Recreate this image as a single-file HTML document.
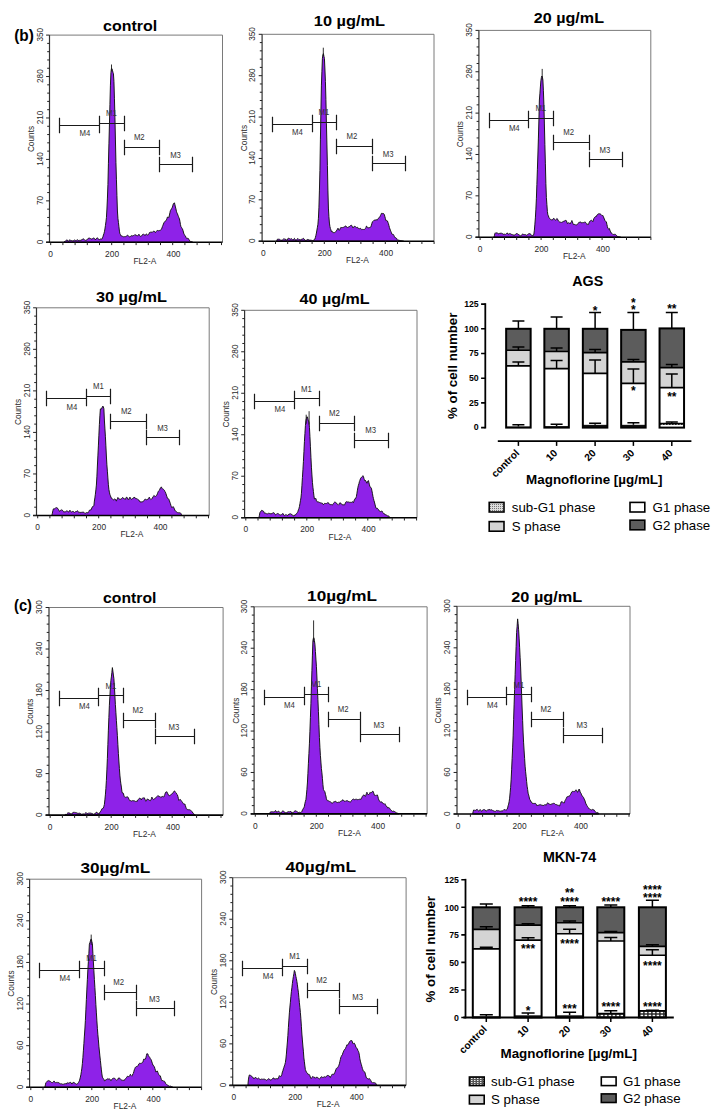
<!DOCTYPE html>
<html><head><meta charset="utf-8"><style>
html,body{margin:0;padding:0;background:#fff;}
body{width:716px;height:1117px;overflow:hidden;}
svg{display:block;}
text{font-family:"Liberation Sans",sans-serif;}
.tl{font-size:8.4px;fill:#2a2a2a;text-anchor:middle;}
.ml{font-size:8.9px;fill:#333;}
.tt{font-size:15px;font-weight:bold;fill:#000;}
.pl{font-size:17px;font-weight:bold;fill:#000;}
.bl{font-size:9.8px;font-weight:bold;fill:#000;}
.yl{font-size:13.3px;font-weight:bold;fill:#000;text-anchor:middle;}
.xl{font-size:10.2px;font-weight:bold;fill:#000;text-anchor:end;}
.ct{font-size:14.3px;font-weight:bold;fill:#000;text-anchor:middle;}
.xt{font-size:13.4px;font-weight:bold;fill:#000;text-anchor:middle;}
.lg{font-size:13.3px;fill:#000;}
.st{font-weight:bold;fill:#000;text-anchor:middle;}
</style></head><body>
<svg width="716" height="1117" viewBox="0 0 716 1117">
<defs>
<pattern id="hatch" width="4" height="3" patternUnits="userSpaceOnUse"><rect width="4" height="3" fill="#222"/><rect x="0.6" y="0.7" width="2.6" height="1.6" fill="#fff"/></pattern>
<pattern id="hatch2" width="2" height="2" patternUnits="userSpaceOnUse"><rect width="2" height="2" fill="#ddd"/><rect width="1" height="1" fill="#777"/></pattern>
<pattern id="hatch3" width="3" height="2" patternUnits="userSpaceOnUse"><rect width="3" height="2" fill="#555"/><rect width="1.5" height="1" fill="#eee"/></pattern>
<pattern id="hatchA" width="3" height="3" patternUnits="userSpaceOnUse"><rect width="3" height="3" fill="#fff"/><rect y="1" width="1.6" height="1" fill="#333"/></pattern>
</defs>
<rect width="716" height="1117" fill="#fff"/>
<path d="M63.93 242.3 L63.93 242.3 L64.43 241.55 L64.93 241.34 L65.43 241.19 L65.93 240.7 L66.43 240.04 L66.93 239.66 L67.43 240.06 L67.93 240.91 L68.43 241.25 L68.93 240.89 L69.43 240.12 L69.93 239.67 L70.43 240.34 L70.93 240.44 L71.43 240.51 L71.93 240.73 L72.43 240.77 L72.93 240.92 L73.43 240.76 L73.93 240.55 L74.43 239.87 L74.93 240.25 L75.43 240.47 L75.93 240.56 L76.43 240.39 L76.93 240.16 L77.43 239.74 L77.93 239.97 L78.43 240.68 L78.93 240.36 L79.43 240.4 L79.93 240.29 L80.43 240.3 L80.93 240.28 L81.43 239.97 L81.93 239.87 L82.43 239.14 L82.93 239.18 L83.43 238.81 L83.93 239.27 L84.43 239.86 L84.93 240.3 L85.43 240.39 L85.93 240.31 L86.43 240.1 L86.93 239.77 L87.43 239.22 L87.93 239.08 L88.43 238.19 L88.93 238.07 L89.43 238.1 L89.93 238.31 L90.43 238.53 L90.93 238.8 L91.43 239.1 L91.93 238.72 L92.43 238.74 L92.93 238.59 L93.43 238.05 L93.93 237.81 L94.43 238.56 L94.93 239.16 L95.43 239.99 L95.93 238.87 L96.43 238.61 L96.93 237.98 L97.43 237.79 L97.93 238.55 L98.43 239.28 L98.93 239.1 L99.43 239.56 L99.93 239.31 L100.43 238.99 L100.93 239.07 L101.43 239.18 L101.93 239.05 L102.43 237.86 L102.93 236.86 L103.43 234.97 L103.93 233.64 L104.43 231.72 L104.93 229.01 L105.43 225.64 L105.93 221.88 L106.43 217.63 L106.93 209.04 L107.43 198.06 L107.93 184.55 L108.43 163.23 L108.93 143.84 L109.43 125 L109.93 104.39 L110.43 85.15 L110.93 72.71 L111.43 68.54 L111.93 68.56 L112.43 70.19 L112.93 72.3 L113.43 73.75 L113.93 81.27 L114.43 98.23 L114.93 117.2 L115.43 139.97 L115.93 162.3 L116.43 179.2 L116.93 195.52 L117.43 211 L117.93 218.36 L118.43 222.44 L118.93 226.72 L119.43 231.17 L119.93 233.78 L120.43 234.5 L120.93 235.83 L121.43 235.86 L121.93 236.14 L122.43 236.33 L122.93 236.42 L123.43 236.67 L123.93 236.94 L124.43 236.59 L124.93 237.03 L125.43 236.82 L125.93 236.2 L126.43 236.11 L126.93 235.6 L127.43 235.28 L127.93 235.5 L128.43 235.95 L128.93 236.39 L129.43 236.77 L129.93 236.65 L130.43 236.38 L130.93 236.5 L131.43 235.67 L131.93 235.59 L132.43 235.83 L132.93 236.06 L133.43 235.54 L133.93 235.45 L134.43 235.15 L134.93 234.58 L135.43 234.9 L135.93 235.08 L136.43 235.19 L136.93 235.92 L137.43 236.01 L137.93 235.32 L138.43 235.03 L138.93 234.27 L139.43 235.05 L139.93 235.89 L140.43 236.46 L140.93 236.35 L141.43 235.88 L141.93 235.66 L142.43 234.65 L142.93 234.57 L143.43 234.02 L143.93 234.42 L144.43 234.69 L144.93 235.53 L145.43 234.72 L145.93 234.53 L146.43 234.04 L146.93 234.39 L147.43 235.1 L147.93 235.16 L148.43 234.55 L148.93 233.88 L149.43 232.52 L149.93 232.73 L150.43 232.29 L150.93 231.88 L151.43 232.08 L151.93 232.32 L152.43 232.27 L152.93 231.78 L153.43 231.16 L153.93 231.17 L154.43 231.35 L154.93 232.07 L155.43 232.57 L155.93 231.66 L156.43 231.29 L156.93 230.68 L157.43 230.53 L157.93 230.42 L158.43 230.74 L158.93 230.51 L159.43 230.47 L159.93 230.36 L160.43 230.25 L160.93 229.9 L161.43 229.25 L161.93 228.05 L162.43 226.47 L162.93 225.34 L163.43 224.03 L163.93 222.8 L164.43 222.07 L164.93 221.51 L165.43 220.93 L165.93 220.73 L166.43 219.91 L166.93 218.61 L167.43 217.05 L167.93 217.33 L168.43 217.29 L168.93 217.53 L169.43 214.98 L169.93 212.71 L170.43 210.4 L170.93 210.02 L171.43 208.79 L171.93 208.16 L172.43 207.09 L172.93 205.13 L173.43 203.63 L173.93 203.72 L174.43 202.78 L174.93 204.75 L175.43 206.98 L175.93 208.91 L176.43 211.31 L176.93 212.84 L177.43 213.78 L177.93 215.18 L178.43 216.45 L178.93 217.73 L179.43 218.87 L179.93 221.29 L180.43 224.4 L180.93 226.55 L181.43 227.29 L181.93 228.28 L182.43 228.81 L182.93 230.29 L183.43 232.02 L183.93 233.95 L184.43 234.64 L184.93 235.55 L185.43 236.07 L185.93 237.33 L186.43 237.87 L186.93 238.67 L187.43 238.11 L187.93 238.46 L188.43 238.58 L188.93 239.55 L189.43 240.26 L189.93 241.06 L190.43 241.58 L190.93 241.79 L191.43 241.6 L191.93 241.84 L192.43 242.07 L192.93 242.3 Z" fill="#8e22e8" stroke="#111" stroke-width="0.95" stroke-linejoin="round"/>
<line x1="111.5" y1="71.3" x2="111.5" y2="64.5" stroke="#1a1a1a" stroke-width="0.9"/>
<path d="M49.5 35.1H222.5V242.3" fill="none" stroke="#7a7a7a" stroke-width="1"/>
<path d="M49.5 35.1V242.3" fill="none" stroke="#333" stroke-width="1.2"/>
<path d="M46.1 242.3H222.5" fill="none" stroke="#000" stroke-width="1.6"/>
<path d="M46.1 242.3H49.5M47.2 234.01H49.5M47.2 225.72H49.5M47.2 217.44H49.5M47.2 209.15H49.5M46.1 200.86H49.5M47.2 192.57H49.5M47.2 184.28H49.5M47.2 176H49.5M47.2 167.71H49.5M46.1 159.42H49.5M47.2 151.13H49.5M47.2 142.84H49.5M47.2 134.56H49.5M47.2 126.27H49.5M46.1 117.98H49.5M47.2 109.69H49.5M47.2 101.4H49.5M47.2 93.12H49.5M47.2 84.83H49.5M46.1 76.54H49.5M47.2 68.25H49.5M47.2 59.96H49.5M47.2 51.68H49.5M47.2 43.39H49.5M46.1 35.1H49.5M50.7 242.3V245.1M62.9 242.3V245.1M75.1 242.3V245.1M87.3 242.3V245.1M99.5 242.3V245.1M111.7 242.3V245.1M123.9 242.3V245.1M136.1 242.3V245.1M148.3 242.3V245.1M160.5 242.3V245.1M172.7 242.3V245.1M184.9 242.3V245.1M197.1 242.3V245.1M209.3 242.3V245.1M221.5 242.3V245.1" stroke="#222" stroke-width="1"/>
<text transform="translate(42.6 242.3) rotate(-90)" class="tl" x="-1.9" textLength="4.6" lengthAdjust="spacingAndGlyphs" style="text-anchor:start">0</text>
<text transform="translate(42.6 200.86) rotate(-90)" class="tl" x="-4.25" textLength="9.3" lengthAdjust="spacingAndGlyphs" style="text-anchor:start">70</text>
<text transform="translate(42.6 159.42) rotate(-90)" class="tl" x="-6.4" textLength="13.6" lengthAdjust="spacingAndGlyphs" style="text-anchor:start">140</text>
<text transform="translate(42.6 117.98) rotate(-90)" class="tl" x="-6.4" textLength="13.6" lengthAdjust="spacingAndGlyphs" style="text-anchor:start">210</text>
<text transform="translate(42.6 76.54) rotate(-90)" class="tl" x="-6.4" textLength="13.6" lengthAdjust="spacingAndGlyphs" style="text-anchor:start">280</text>
<text transform="translate(42.6 35.1) rotate(-90)" class="tl" x="-6.4" textLength="13.6" lengthAdjust="spacingAndGlyphs" style="text-anchor:start">350</text>
<text transform="translate(33.9 139) rotate(-90)" class="tl" x="-13.1" textLength="26.2" lengthAdjust="spacingAndGlyphs" style="text-anchor:start;font-size:9.3px">Counts</text>
<text x="50.7" y="256.9" class="tl">0</text>
<text x="112.1" y="256.9" class="tl">200</text>
<text x="173.5" y="256.9" class="tl">400</text>
<text x="144.9" y="264.2" class="tl">FL2-A</text>
<path d="M59.5 125.5H99.5M59.5 117.7V133.3M99.5 117.7V133.3M99.5 123.5H124.5M99.5 115.7V131.3M124.5 115.7V131.3M124.5 147.5H159.5M124.5 139.7V155.3M159.5 139.7V155.3M159.5 164.5H192.5M159.5 156.7V172.3M192.5 156.7V172.3" stroke="#1a1a1a" stroke-width="1.2" fill="none"/>
<text x="79.5" y="136.4" class="ml" textLength="10.8" lengthAdjust="spacingAndGlyphs">M4</text>
<text x="106" y="116.1" class="ml" textLength="10.8" lengthAdjust="spacingAndGlyphs">M1</text>
<text x="133.9" y="140.3" class="ml" textLength="10.8" lengthAdjust="spacingAndGlyphs">M2</text>
<text x="170.15" y="158" class="ml" textLength="10.8" lengthAdjust="spacingAndGlyphs">M3</text>
<text x="103.1" y="31.4" class="tt" textLength="54" lengthAdjust="spacingAndGlyphs">control</text>
<path d="M276.41 241.2 L276.41 241.2 L276.91 240.45 L277.41 239.16 L277.91 239.26 L278.41 239.28 L278.91 238.97 L279.41 239.12 L279.91 239.62 L280.41 239.91 L280.91 240.44 L281.41 240.22 L281.91 240.29 L282.41 240.16 L282.91 239.74 L283.41 239.2 L283.91 238.59 L284.41 239.14 L284.91 239.4 L285.41 239.15 L285.91 240.02 L286.41 239.89 L286.91 240.23 L287.41 239.97 L287.91 238.74 L288.41 238.02 L288.91 238.45 L289.41 238.62 L289.91 238.81 L290.41 239.15 L290.91 238.75 L291.41 238.64 L291.91 238.97 L292.41 239.56 L292.91 240.12 L293.41 239.68 L293.91 238.86 L294.41 238.4 L294.91 239.02 L295.41 239.97 L295.91 240.73 L296.41 240.04 L296.91 239.26 L297.41 238.81 L297.91 238.63 L298.41 239.14 L298.91 239.42 L299.41 239.52 L299.91 239.57 L300.41 239.8 L300.91 239.97 L301.41 239.25 L301.91 239.12 L302.41 239 L302.91 238.69 L303.41 238.32 L303.91 239.25 L304.41 239.3 L304.91 240.16 L305.41 240.4 L305.91 240.37 L306.41 240.16 L306.91 240.22 L307.41 239.54 L307.91 239.06 L308.41 239.63 L308.91 239.94 L309.41 240.1 L309.91 240.06 L310.41 240.11 L310.91 240.32 L311.41 240.26 L311.91 240.62 L312.41 240.53 L312.91 240.55 L313.41 240.29 L313.91 240.35 L314.41 239.42 L314.91 239.05 L315.41 237.36 L315.91 235.4 L316.41 233.04 L316.91 230.08 L317.41 227.27 L317.91 224.32 L318.41 218.27 L318.91 207.84 L319.41 190.93 L319.91 170.46 L320.41 139.88 L320.91 110.98 L321.41 85.13 L321.91 71.25 L322.41 58.27 L322.91 54.92 L323.41 53.58 L323.91 56.22 L324.41 58.4 L324.91 69.01 L325.41 81.34 L325.91 99.6 L326.41 123.19 L326.91 144.02 L327.41 165.42 L327.91 190.07 L328.41 208.05 L328.91 216.6 L329.41 223.08 L329.91 226.44 L330.41 228.55 L330.91 229.88 L331.41 231.53 L331.91 230.94 L332.41 231.77 L332.91 232.62 L333.41 232.64 L333.91 232.38 L334.41 232.5 L334.91 232.71 L335.41 232.22 L335.91 231.46 L336.41 230.86 L336.91 229.71 L337.41 229.51 L337.91 228.19 L338.41 228.84 L338.91 230.07 L339.41 230.25 L339.91 229.3 L340.41 228.06 L340.91 227.36 L341.41 227.52 L341.91 227.73 L342.41 227.54 L342.91 227.5 L343.41 227.33 L343.91 227.08 L344.41 226.75 L344.91 226.47 L345.41 226 L345.91 226.05 L346.41 227 L346.91 227.11 L347.41 227.45 L347.91 227.29 L348.41 226.97 L348.91 226.97 L349.41 226.61 L349.91 225.97 L350.41 225.64 L350.91 225.32 L351.41 225.16 L351.91 225.86 L352.41 226.74 L352.91 227.91 L353.41 227.25 L353.91 227.19 L354.41 226.18 L354.91 226.62 L355.41 226.65 L355.91 226.97 L356.41 227.4 L356.91 227.74 L357.41 227.29 L357.91 228.22 L358.41 228.27 L358.91 228.62 L359.41 228.69 L359.91 228.42 L360.41 228.29 L360.91 229.12 L361.41 229.17 L361.91 229.76 L362.41 229.45 L362.91 229.44 L363.41 229.47 L363.91 229.52 L364.41 229.53 L364.91 229.08 L365.41 228.46 L365.91 227.61 L366.41 226.08 L366.91 226.43 L367.41 227.23 L367.91 227.88 L368.41 227.77 L368.91 227.77 L369.41 227.52 L369.91 227.61 L370.41 227.24 L370.91 226.86 L371.41 225.12 L371.91 223.34 L372.41 221.86 L372.91 221.53 L373.41 220.97 L373.91 220.33 L374.41 220.21 L374.91 220.02 L375.41 220.01 L375.91 219.95 L376.41 219.58 L376.91 220.3 L377.41 219.59 L377.91 218.95 L378.41 218.25 L378.91 218.01 L379.41 217.28 L379.91 216.6 L380.41 215.59 L380.91 214.64 L381.41 213.37 L381.91 213.38 L382.41 213.38 L382.91 214.06 L383.41 213.44 L383.91 213.89 L384.41 214.72 L384.91 216.82 L385.41 218.52 L385.91 220.63 L386.41 220.57 L386.91 220.49 L387.41 220.93 L387.91 222.3 L388.41 223.61 L388.91 225.51 L389.41 227.47 L389.91 228.98 L390.41 230.23 L390.91 231.46 L391.41 232.6 L391.91 234.04 L392.41 234.35 L392.91 234.59 L393.41 234.5 L393.91 235.42 L394.41 236.74 L394.91 237.16 L395.41 237.86 L395.91 237.69 L396.41 238.19 L396.91 239.08 L397.41 239.84 L397.91 240.39 L398.41 240.16 L398.91 240.16 L399.41 240.38 L399.91 240.44 L400.41 240.54 L400.91 240.64 L401.41 240.74 L401.91 240.84 L402.41 240.94 L402.91 241.04 L403.41 241.14 L403.72 241.2 Z" fill="#8e22e8" stroke="#111" stroke-width="0.95" stroke-linejoin="round"/>
<line x1="323.3" y1="56.2" x2="323.3" y2="47.7" stroke="#1a1a1a" stroke-width="0.9"/>
<path d="M262.1 34.3H434V241.2" fill="none" stroke="#7a7a7a" stroke-width="1"/>
<path d="M262.1 34.3V241.2" fill="none" stroke="#333" stroke-width="1.2"/>
<path d="M258.7 241.2H434" fill="none" stroke="#000" stroke-width="1.6"/>
<path d="M258.7 241.2H262.1M259.8 232.92H262.1M259.8 224.65H262.1M259.8 216.37H262.1M259.8 208.1H262.1M258.7 199.82H262.1M259.8 191.54H262.1M259.8 183.27H262.1M259.8 174.99H262.1M259.8 166.72H262.1M258.7 158.44H262.1M259.8 150.16H262.1M259.8 141.89H262.1M259.8 133.61H262.1M259.8 125.34H262.1M258.7 117.06H262.1M259.8 108.78H262.1M259.8 100.51H262.1M259.8 92.23H262.1M259.8 83.96H262.1M258.7 75.68H262.1M259.8 67.4H262.1M259.8 59.13H262.1M259.8 50.85H262.1M259.8 42.58H262.1M258.7 34.3H262.1M263.3 241.2V244M275.5 241.2V244M287.7 241.2V244M299.9 241.2V244M312.1 241.2V244M324.3 241.2V244M336.5 241.2V244M348.7 241.2V244M360.9 241.2V244M373.1 241.2V244M385.3 241.2V244M397.5 241.2V244M409.7 241.2V244M421.9 241.2V244M434.1 241.2V244" stroke="#222" stroke-width="1"/>
<text transform="translate(255.2 241.2) rotate(-90)" class="tl" x="-1.9" textLength="4.6" lengthAdjust="spacingAndGlyphs" style="text-anchor:start">0</text>
<text transform="translate(255.2 199.82) rotate(-90)" class="tl" x="-4.25" textLength="9.3" lengthAdjust="spacingAndGlyphs" style="text-anchor:start">70</text>
<text transform="translate(255.2 158.44) rotate(-90)" class="tl" x="-6.4" textLength="13.6" lengthAdjust="spacingAndGlyphs" style="text-anchor:start">140</text>
<text transform="translate(255.2 117.06) rotate(-90)" class="tl" x="-6.4" textLength="13.6" lengthAdjust="spacingAndGlyphs" style="text-anchor:start">210</text>
<text transform="translate(255.2 75.68) rotate(-90)" class="tl" x="-6.4" textLength="13.6" lengthAdjust="spacingAndGlyphs" style="text-anchor:start">280</text>
<text transform="translate(255.2 34.3) rotate(-90)" class="tl" x="-6.4" textLength="13.6" lengthAdjust="spacingAndGlyphs" style="text-anchor:start">350</text>
<text transform="translate(246.5 138.05) rotate(-90)" class="tl" x="-13.1" textLength="26.2" lengthAdjust="spacingAndGlyphs" style="text-anchor:start;font-size:9.3px">Counts</text>
<text x="263.3" y="255.8" class="tl">0</text>
<text x="324.7" y="255.8" class="tl">200</text>
<text x="386.1" y="255.8" class="tl">400</text>
<text x="357.5" y="263.1" class="tl">FL2-A</text>
<path d="M272.5 124.5H312.5M272.5 116.7V132.3M312.5 116.7V132.3M312.5 122.5H336.5M312.5 114.7V130.3M336.5 114.7V130.3M336.5 146.5H372.5M336.5 138.7V154.3M372.5 138.7V154.3M372.5 163.5H405.5M372.5 155.7V171.3M405.5 155.7V171.3" stroke="#1a1a1a" stroke-width="1.2" fill="none"/>
<text x="292.1" y="135.3" class="ml" textLength="10.8" lengthAdjust="spacingAndGlyphs">M4</text>
<text x="318.6" y="115" class="ml" textLength="10.8" lengthAdjust="spacingAndGlyphs">M1</text>
<text x="346.5" y="139.2" class="ml" textLength="10.8" lengthAdjust="spacingAndGlyphs">M2</text>
<text x="382.75" y="156.9" class="ml" textLength="10.8" lengthAdjust="spacingAndGlyphs">M3</text>
<text x="313.8" y="26" class="tt" textLength="71.2" lengthAdjust="spacingAndGlyphs">10 µg/mL</text>
<path d="M493.89 237.2 L493.89 237.2 L494.39 235.71 L494.89 233.53 L495.39 232.75 L495.89 233.31 L496.39 232.99 L496.89 232.66 L497.39 232.86 L497.89 233.54 L498.39 233.72 L498.89 233.84 L499.39 233.39 L499.89 233.99 L500.39 233.32 L500.89 232.88 L501.39 232.94 L501.89 233.51 L502.39 233.55 L502.89 234.3 L503.39 234.4 L503.89 233.98 L504.39 234.15 L504.89 234.19 L505.39 234.39 L505.89 233.88 L506.39 233.5 L506.89 233.43 L507.39 232.96 L507.89 234 L508.39 234.11 L508.89 234.2 L509.39 233.67 L509.89 233.47 L510.39 233.67 L510.89 234.1 L511.39 234.31 L511.89 234.6 L512.39 234.5 L512.89 235.22 L513.39 234.98 L513.89 235.01 L514.39 234.94 L514.89 234.97 L515.39 234.5 L515.89 234.11 L516.39 233.53 L516.89 233.71 L517.39 233.63 L517.89 234.33 L518.39 234.57 L518.89 234.51 L519.39 235.19 L519.89 235.55 L520.39 235.81 L520.89 235.68 L521.39 235.45 L521.89 234.6 L522.39 234.27 L522.89 234.06 L523.39 234.42 L523.89 234.4 L524.39 234.6 L524.89 234.53 L525.39 234.59 L525.89 234.91 L526.39 235.19 L526.89 235.19 L527.39 234.71 L527.89 234.34 L528.39 233.95 L528.89 233.67 L529.39 233.59 L529.89 233.76 L530.39 233.83 L530.89 234.78 L531.39 235.16 L531.89 235.46 L532.39 235.36 L532.89 235.89 L533.39 235.1 L533.89 234.09 L534.39 230.16 L534.89 224.16 L535.39 217.86 L535.89 209.16 L536.39 198.8 L536.89 184.44 L537.39 169.84 L537.89 154.99 L538.39 138.95 L538.89 121.03 L539.39 100.03 L539.89 93.85 L540.39 86.98 L540.89 80.76 L541.39 77.52 L541.89 75.99 L542.39 77 L542.89 79.9 L543.39 90.24 L543.89 104.05 L544.39 123.98 L544.89 144.69 L545.39 163.84 L545.89 183.68 L546.39 197.37 L546.89 204.49 L547.39 211.46 L547.89 214.88 L548.39 215.77 L548.89 217.44 L549.39 218.25 L549.89 218.64 L550.39 219.32 L550.89 219.63 L551.39 219.76 L551.89 219.9 L552.39 220.03 L552.89 219.17 L553.39 218.52 L553.89 218.23 L554.39 219.2 L554.89 219.81 L555.39 220.39 L555.89 219.98 L556.39 219.13 L556.89 218.46 L557.39 218.86 L557.89 219.83 L558.39 220.95 L558.89 221.43 L559.39 221.73 L559.89 222.12 L560.39 222.09 L560.89 222.51 L561.39 222.49 L561.89 221.93 L562.39 221.95 L562.89 221.86 L563.39 221.6 L563.89 220.89 L564.39 221.1 L564.89 220.62 L565.39 220.48 L565.89 220.13 L566.39 220.95 L566.89 221.98 L567.39 223.54 L567.89 223.39 L568.39 222.76 L568.89 222.86 L569.39 223.3 L569.89 222.97 L570.39 223.6 L570.89 222.39 L571.39 221.75 L571.89 220.5 L572.39 221.93 L572.89 223.28 L573.39 224.52 L573.89 224.32 L574.39 224.43 L574.89 224.42 L575.39 225.04 L575.89 224.72 L576.39 224.94 L576.89 224.49 L577.39 224.37 L577.89 223.92 L578.39 223.17 L578.89 222.32 L579.39 222.32 L579.89 222.13 L580.39 222 L580.89 221.97 L581.39 222.76 L581.89 223.06 L582.39 222.74 L582.89 222.46 L583.39 222.54 L583.89 222.58 L584.39 222.11 L584.89 222.56 L585.39 222.15 L585.89 222.96 L586.39 223.44 L586.89 224.54 L587.39 224.16 L587.89 224.62 L588.39 224.55 L588.89 223.16 L589.39 222.09 L589.89 221.14 L590.39 220.84 L590.89 220.44 L591.39 220.1 L591.89 220.66 L592.39 221.34 L592.89 221.78 L593.39 220.06 L593.89 218.54 L594.39 217.67 L594.89 217.06 L595.39 216.69 L595.89 216.97 L596.39 215.76 L596.89 215.62 L597.39 214.63 L597.89 214.08 L598.39 213.84 L598.89 213.89 L599.39 213.84 L599.89 213.76 L600.39 213.99 L600.89 214.35 L601.39 215.02 L601.89 215.54 L602.39 215.61 L602.89 215.41 L603.39 216.51 L603.89 218.03 L604.39 219.02 L604.89 220.38 L605.39 221.08 L605.89 221.66 L606.39 221.9 L606.89 224.39 L607.39 226.54 L607.89 228.41 L608.39 228.86 L608.89 228.71 L609.39 228.45 L609.89 230.18 L610.39 231.13 L610.89 232.85 L611.39 232.86 L611.89 233.3 L612.39 233.97 L612.89 234.52 L613.39 234.46 L613.89 234.42 L614.39 234.14 L614.89 234.83 L615.39 234.45 L615.89 234.78 L616.39 235.38 L616.89 235.74 L617.39 236.42 L617.89 236.54 L618.39 236.66 L618.89 236.77 L619.39 236.89 L619.89 237.01 L620.39 237.12 L620.72 237.2 Z" fill="#8e22e8" stroke="#111" stroke-width="0.95" stroke-linejoin="round"/>
<line x1="542.2" y1="80.2" x2="542.2" y2="68.9" stroke="#1a1a1a" stroke-width="0.9"/>
<path d="M478.9 30.4H650.8V237.2" fill="none" stroke="#7a7a7a" stroke-width="1"/>
<path d="M478.9 30.4V237.2" fill="none" stroke="#333" stroke-width="1.2"/>
<path d="M475.5 237.2H650.8" fill="none" stroke="#000" stroke-width="1.6"/>
<path d="M475.5 237.2H478.9M476.6 228.93H478.9M476.6 220.66H478.9M476.6 212.38H478.9M476.6 204.11H478.9M475.5 195.84H478.9M476.6 187.57H478.9M476.6 179.3H478.9M476.6 171.02H478.9M476.6 162.75H478.9M475.5 154.48H478.9M476.6 146.21H478.9M476.6 137.94H478.9M476.6 129.66H478.9M476.6 121.39H478.9M475.5 113.12H478.9M476.6 104.85H478.9M476.6 96.58H478.9M476.6 88.3H478.9M476.6 80.03H478.9M475.5 71.76H478.9M476.6 63.49H478.9M476.6 55.22H478.9M476.6 46.94H478.9M476.6 38.67H478.9M475.5 30.4H478.9M480.1 237.2V240M492.3 237.2V240M504.5 237.2V240M516.7 237.2V240M528.9 237.2V240M541.1 237.2V240M553.3 237.2V240M565.5 237.2V240M577.7 237.2V240M589.9 237.2V240M602.1 237.2V240M614.3 237.2V240M626.5 237.2V240M638.7 237.2V240M650.9 237.2V240" stroke="#222" stroke-width="1"/>
<text transform="translate(472 237.2) rotate(-90)" class="tl" x="-1.9" textLength="4.6" lengthAdjust="spacingAndGlyphs" style="text-anchor:start">0</text>
<text transform="translate(472 195.84) rotate(-90)" class="tl" x="-4.25" textLength="9.3" lengthAdjust="spacingAndGlyphs" style="text-anchor:start">70</text>
<text transform="translate(472 154.48) rotate(-90)" class="tl" x="-6.4" textLength="13.6" lengthAdjust="spacingAndGlyphs" style="text-anchor:start">140</text>
<text transform="translate(472 113.12) rotate(-90)" class="tl" x="-6.4" textLength="13.6" lengthAdjust="spacingAndGlyphs" style="text-anchor:start">210</text>
<text transform="translate(472 71.76) rotate(-90)" class="tl" x="-6.4" textLength="13.6" lengthAdjust="spacingAndGlyphs" style="text-anchor:start">280</text>
<text transform="translate(472 30.4) rotate(-90)" class="tl" x="-6.4" textLength="13.6" lengthAdjust="spacingAndGlyphs" style="text-anchor:start">350</text>
<text transform="translate(463.3 134.1) rotate(-90)" class="tl" x="-13.1" textLength="26.2" lengthAdjust="spacingAndGlyphs" style="text-anchor:start;font-size:9.3px">Counts</text>
<text x="480.1" y="251.8" class="tl">0</text>
<text x="541.5" y="251.8" class="tl">200</text>
<text x="602.9" y="251.8" class="tl">400</text>
<text x="574.3" y="259.1" class="tl">FL2-A</text>
<path d="M489.5 120.5H528.5M489.5 112.7V128.3M528.5 112.7V128.3M528.5 118.5H553.5M528.5 110.7V126.3M553.5 110.7V126.3M553.5 142.5H589.5M553.5 134.7V150.3M589.5 134.7V150.3M589.5 159.5H622.5M589.5 151.7V167.3M622.5 151.7V167.3" stroke="#1a1a1a" stroke-width="1.2" fill="none"/>
<text x="508.9" y="131.3" class="ml" textLength="10.8" lengthAdjust="spacingAndGlyphs">M4</text>
<text x="535.4" y="111" class="ml" textLength="10.8" lengthAdjust="spacingAndGlyphs">M1</text>
<text x="563.3" y="135.2" class="ml" textLength="10.8" lengthAdjust="spacingAndGlyphs">M2</text>
<text x="599.55" y="152.9" class="ml" textLength="10.8" lengthAdjust="spacingAndGlyphs">M3</text>
<text x="533.8" y="22.6" class="tt" textLength="70.2" lengthAdjust="spacingAndGlyphs">20 µg/mL</text>
<path d="M51.89 515.5 L51.89 515.5 L52.39 513.15 L52.89 510.62 L53.39 508.89 L53.89 508.82 L54.39 508.86 L54.89 508.57 L55.39 508.27 L55.89 507.67 L56.39 507.57 L56.89 508.16 L57.39 507.95 L57.89 508.8 L58.39 509.38 L58.89 510.37 L59.39 511.38 L59.89 511.12 L60.39 510.25 L60.89 510.43 L61.39 510 L61.89 509.63 L62.39 510.1 L62.89 510.86 L63.39 511.37 L63.89 512.24 L64.39 511.92 L64.89 511.58 L65.39 511.8 L65.89 511.38 L66.39 511.06 L66.89 510.91 L67.39 510.88 L67.89 511.51 L68.39 512.11 L68.89 511.99 L69.39 510.78 L69.89 510.24 L70.39 511.01 L70.89 511.39 L71.39 512.16 L71.89 511.88 L72.39 511.52 L72.89 510.99 L73.39 511.73 L73.89 512.12 L74.39 512.43 L74.89 512.17 L75.39 511.77 L75.89 511.57 L76.39 511.54 L76.89 510.99 L77.39 510.73 L77.89 511.11 L78.39 511.93 L78.89 512.73 L79.39 512.44 L79.89 512.18 L80.39 512.67 L80.89 512.01 L81.39 512.43 L81.89 512.06 L82.39 512.25 L82.89 512.07 L83.39 512.11 L83.89 512.5 L84.39 513.05 L84.89 512.92 L85.39 513.2 L85.89 513.15 L86.39 512.57 L86.89 512.8 L87.39 512.79 L87.89 512.84 L88.39 511.98 L88.89 511.51 L89.39 510.21 L89.89 510.16 L90.39 509.91 L90.89 510.07 L91.39 509.04 L91.89 507.89 L92.39 506.79 L92.89 506.56 L93.39 506.04 L93.89 505.84 L94.39 501.06 L94.89 497.91 L95.39 494.21 L95.89 489.86 L96.39 485.1 L96.89 476.83 L97.39 466.02 L97.89 455.9 L98.39 445.9 L98.89 435.19 L99.39 424.58 L99.89 415.82 L100.39 408.81 L100.89 409.29 L101.39 409.17 L101.89 408.04 L102.39 406.77 L102.89 406.05 L103.39 406.9 L103.89 408.83 L104.39 420.02 L104.89 428.13 L105.39 436.2 L105.89 445.82 L106.39 456.01 L106.89 464.8 L107.39 471.16 L107.89 477.93 L108.39 484.78 L108.89 489.36 L109.39 492.19 L109.89 494.36 L110.39 495.56 L110.89 497.09 L111.39 498.08 L111.89 498.3 L112.39 499.13 L112.89 499.5 L113.39 499.87 L113.89 499.73 L114.39 499.15 L114.89 498.72 L115.39 499.25 L115.89 500.34 L116.39 501.14 L116.89 499.6 L117.39 498.82 L117.89 497.48 L118.39 498.06 L118.89 498.9 L119.39 499.07 L119.89 499.23 L120.39 499.16 L120.89 499.63 L121.39 498.7 L121.89 498.13 L122.39 497.67 L122.89 497.54 L123.39 498.4 L123.89 498.22 L124.39 498.93 L124.89 499.3 L125.39 499.41 L125.89 498.1 L126.39 497.22 L126.89 497.18 L127.39 497.91 L127.89 498.98 L128.39 499.82 L128.89 499.25 L129.39 498.03 L129.89 497.14 L130.39 497.68 L130.89 498.95 L131.39 499.34 L131.89 499.35 L132.39 498.95 L132.89 498.16 L133.39 497.9 L133.89 497.76 L134.39 496.98 L134.89 497.98 L135.39 498.1 L135.89 498.77 L136.39 498.66 L136.89 498.73 L137.39 498.88 L137.89 499.39 L138.39 499.93 L138.89 500.12 L139.39 501.16 L139.89 501.07 L140.39 502.16 L140.89 502.04 L141.39 502.02 L141.89 501.59 L142.39 501.78 L142.89 501.71 L143.39 501.12 L143.89 500.88 L144.39 500.01 L144.89 499.25 L145.39 499.26 L145.89 499.42 L146.39 499.66 L146.89 499.68 L147.39 499.5 L147.89 499.43 L148.39 498.34 L148.89 497.86 L149.39 497.19 L149.89 498.56 L150.39 499.05 L150.89 499.52 L151.39 499.16 L151.89 498.98 L152.39 498.25 L152.89 496.97 L153.39 496.42 L153.89 495.44 L154.39 495.93 L154.89 496.14 L155.39 496.38 L155.89 496.26 L156.39 495.66 L156.89 495 L157.39 493.74 L157.89 492.37 L158.39 491.31 L158.89 490.65 L159.39 490.22 L159.89 489.17 L160.39 487.91 L160.89 487.45 L161.39 486.86 L161.89 488.2 L162.39 488.74 L162.89 489.04 L163.39 489.29 L163.89 489.69 L164.39 490.28 L164.89 491.45 L165.39 492.14 L165.89 493.51 L166.39 495.05 L166.89 496.5 L167.39 498.29 L167.89 498.4 L168.39 498.68 L168.89 499.36 L169.39 500.87 L169.89 502.14 L170.39 503.6 L170.89 505.38 L171.39 506.58 L171.89 507.73 L172.39 507.13 L172.89 506.68 L173.39 506.71 L173.89 507.82 L174.39 508.89 L174.89 510.28 L175.39 510.98 L175.89 511.21 L176.39 511.64 L176.89 512.09 L177.39 512.51 L177.89 512.77 L178.39 512.76 L178.89 512.67 L179.39 512.7 L179.89 512.96 L180.39 512.9 L180.89 513.45 L181.39 514.86 L181.89 515.2 L182.33 515.5 Z" fill="#8e22e8" stroke="#111" stroke-width="0.95" stroke-linejoin="round"/>
<path d="M36.5 307.8H209.2V515.5" fill="none" stroke="#7a7a7a" stroke-width="1"/>
<path d="M36.5 307.8V515.5" fill="none" stroke="#333" stroke-width="1.2"/>
<path d="M33.1 515.5H209.2" fill="none" stroke="#000" stroke-width="1.6"/>
<path d="M33.1 515.5H36.5M34.2 507.19H36.5M34.2 498.88H36.5M34.2 490.58H36.5M34.2 482.27H36.5M33.1 473.96H36.5M34.2 465.65H36.5M34.2 457.34H36.5M34.2 449.04H36.5M34.2 440.73H36.5M33.1 432.42H36.5M34.2 424.11H36.5M34.2 415.8H36.5M34.2 407.5H36.5M34.2 399.19H36.5M33.1 390.88H36.5M34.2 382.57H36.5M34.2 374.26H36.5M34.2 365.96H36.5M34.2 357.65H36.5M33.1 349.34H36.5M34.2 341.03H36.5M34.2 332.72H36.5M34.2 324.42H36.5M34.2 316.11H36.5M33.1 307.8H36.5M37.7 515.5V518.3M49.9 515.5V518.3M62.1 515.5V518.3M74.3 515.5V518.3M86.5 515.5V518.3M98.7 515.5V518.3M110.9 515.5V518.3M123.1 515.5V518.3M135.3 515.5V518.3M147.5 515.5V518.3M159.7 515.5V518.3M171.9 515.5V518.3M184.1 515.5V518.3M196.3 515.5V518.3M208.5 515.5V518.3" stroke="#222" stroke-width="1"/>
<text transform="translate(29.6 515.5) rotate(-90)" class="tl" x="-1.9" textLength="4.6" lengthAdjust="spacingAndGlyphs" style="text-anchor:start">0</text>
<text transform="translate(29.6 473.96) rotate(-90)" class="tl" x="-4.25" textLength="9.3" lengthAdjust="spacingAndGlyphs" style="text-anchor:start">70</text>
<text transform="translate(29.6 432.42) rotate(-90)" class="tl" x="-6.4" textLength="13.6" lengthAdjust="spacingAndGlyphs" style="text-anchor:start">140</text>
<text transform="translate(29.6 390.88) rotate(-90)" class="tl" x="-6.4" textLength="13.6" lengthAdjust="spacingAndGlyphs" style="text-anchor:start">210</text>
<text transform="translate(29.6 349.34) rotate(-90)" class="tl" x="-6.4" textLength="13.6" lengthAdjust="spacingAndGlyphs" style="text-anchor:start">280</text>
<text transform="translate(29.6 307.8) rotate(-90)" class="tl" x="-6.4" textLength="13.6" lengthAdjust="spacingAndGlyphs" style="text-anchor:start">350</text>
<text transform="translate(20.9 411.95) rotate(-90)" class="tl" x="-13.1" textLength="26.2" lengthAdjust="spacingAndGlyphs" style="text-anchor:start;font-size:9.3px">Counts</text>
<text x="37.7" y="530.1" class="tl">0</text>
<text x="99.1" y="530.1" class="tl">200</text>
<text x="160.5" y="530.1" class="tl">400</text>
<text x="131.9" y="537.4" class="tl">FL2-A</text>
<path d="M46.5 398.5H86.5M46.5 390.7V406.3M86.5 390.7V406.3M86.5 396.5H110.5M86.5 388.7V404.3M110.5 388.7V404.3M110.5 421.5H146.5M110.5 413.7V429.3M146.5 413.7V429.3M146.5 437.5H179.5M146.5 429.7V445.3M179.5 429.7V445.3" stroke="#1a1a1a" stroke-width="1.2" fill="none"/>
<text x="66.5" y="409.6" class="ml" textLength="10.8" lengthAdjust="spacingAndGlyphs">M4</text>
<text x="93" y="389.3" class="ml" textLength="10.8" lengthAdjust="spacingAndGlyphs">M1</text>
<text x="120.9" y="413.5" class="ml" textLength="10.8" lengthAdjust="spacingAndGlyphs">M2</text>
<text x="157.15" y="431.2" class="ml" textLength="10.8" lengthAdjust="spacingAndGlyphs">M3</text>
<text x="95.9" y="302.3" class="tt" textLength="71.1" lengthAdjust="spacingAndGlyphs">30 µg/mL</text>
<path d="M258.93 517.7 L258.93 517.7 L259.43 515.2 L259.93 512.58 L260.43 511.66 L260.93 511.64 L261.43 510.52 L261.93 510.1 L262.43 510.52 L262.93 511.31 L263.43 511.16 L263.93 511.91 L264.43 512.95 L264.93 513.55 L265.43 512.97 L265.93 513.27 L266.43 513.64 L266.93 513.84 L267.43 513.82 L267.93 513.77 L268.43 513.29 L268.93 513.48 L269.43 513.51 L269.93 513.22 L270.43 513.52 L270.93 514.19 L271.43 513.49 L271.93 513.5 L272.43 513.19 L272.93 513.09 L273.43 512.75 L273.93 512.65 L274.43 513.3 L274.93 514.44 L275.43 514.77 L275.93 514.52 L276.43 514.01 L276.93 513.86 L277.43 513.49 L277.93 513.66 L278.43 513.8 L278.93 514.19 L279.43 514.63 L279.93 514.75 L280.43 515.01 L280.93 514.68 L281.43 514.85 L281.93 514.21 L282.43 513.82 L282.93 513.4 L283.43 513.98 L283.93 515.37 L284.43 515.59 L284.93 515.44 L285.43 514.97 L285.93 514.5 L286.43 514.71 L286.93 515.37 L287.43 515.67 L287.93 514.79 L288.43 514.92 L288.93 514.02 L289.43 513.91 L289.93 514.22 L290.43 513.7 L290.93 514.02 L291.43 514.21 L291.93 514.99 L292.43 514.9 L292.93 515.59 L293.43 515.97 L293.93 515.3 L294.43 515.54 L294.93 514.68 L295.43 514.79 L295.93 514.49 L296.43 513.61 L296.93 513.26 L297.43 512.48 L297.93 511.41 L298.43 509.67 L298.93 508.52 L299.43 506.59 L299.93 503.72 L300.43 500.72 L300.93 497.91 L301.43 493.25 L301.93 485.29 L302.43 477.48 L302.93 469.78 L303.43 461.41 L303.93 451.66 L304.43 441.55 L304.93 433.52 L305.43 425.41 L305.93 420.24 L306.43 418.43 L306.93 416.63 L307.43 417.07 L307.93 419.12 L308.43 421.31 L308.93 421.41 L309.43 427.25 L309.93 436.42 L310.43 446.78 L310.93 457.3 L311.43 467.16 L311.93 474.93 L312.43 482.37 L312.93 487.34 L313.43 491.57 L313.93 495.86 L314.43 498.99 L314.93 498.58 L315.43 498.53 L315.93 498.48 L316.43 500.9 L316.93 501.65 L317.43 501.86 L317.93 501.52 L318.43 501.91 L318.93 502.33 L319.43 502.49 L319.93 502.3 L320.43 502.79 L320.93 502.89 L321.43 503.15 L321.93 502.76 L322.43 503.23 L322.93 503.98 L323.43 504.75 L323.93 503.96 L324.43 503.52 L324.93 503.21 L325.43 503.48 L325.93 503.51 L326.43 503.48 L326.93 503.26 L327.43 502.88 L327.93 502.44 L328.43 502.74 L328.93 503.87 L329.43 504.01 L329.93 504.56 L330.43 504.67 L330.93 504.36 L331.43 504.64 L331.93 504.45 L332.43 504.84 L332.93 504.48 L333.43 503.56 L333.93 502.76 L334.43 502.27 L334.93 501.99 L335.43 502.09 L335.93 502.66 L336.43 503.4 L336.93 503.54 L337.43 504.24 L337.93 504.67 L338.43 505.16 L338.93 504.43 L339.43 503.21 L339.93 502.86 L340.43 502.79 L340.93 503.93 L341.43 503.86 L341.93 504.54 L342.43 504.79 L342.93 504.47 L343.43 504.85 L343.93 504.55 L344.43 504.98 L344.93 504.18 L345.43 502.78 L345.93 501.92 L346.43 501.71 L346.93 501.69 L347.43 502.04 L347.93 501.82 L348.43 501.93 L348.93 502.27 L349.43 502.09 L349.93 502.72 L350.43 502.38 L350.93 502.27 L351.43 502.4 L351.93 502.02 L352.43 501.77 L352.93 501.87 L353.43 502.6 L353.93 501.18 L354.43 499.61 L354.93 498.71 L355.43 498.82 L355.93 497.72 L356.43 496.48 L356.93 493.33 L357.43 490.18 L357.93 487.29 L358.43 485.26 L358.93 483.78 L359.43 481.48 L359.93 480.29 L360.43 478.72 L360.93 477.69 L361.43 477.47 L361.93 477.12 L362.43 476.47 L362.93 475.66 L363.43 476.36 L363.93 478.41 L364.43 479.67 L364.93 480.9 L365.43 480.32 L365.93 481.32 L366.43 482.05 L366.93 483.22 L367.43 481.66 L367.93 480.88 L368.43 480.61 L368.93 482.7 L369.43 484.83 L369.93 486.69 L370.43 486.91 L370.93 487.85 L371.43 488.27 L371.93 490.91 L372.43 493.34 L372.93 496.32 L373.43 498.47 L373.93 500.46 L374.43 502.09 L374.93 504.11 L375.43 506.1 L375.93 507.97 L376.43 508.06 L376.93 508.78 L377.43 508.37 L377.93 508.97 L378.43 509.52 L378.93 510.3 L379.43 511.02 L379.93 511.15 L380.43 511.72 L380.93 511.45 L381.43 510.95 L381.93 511.03 L382.43 512.02 L382.93 512.48 L383.43 513.08 L383.93 513.9 L384.43 513.9 L384.93 514.11 L385.43 514.86 L385.93 514.86 L386.43 515.08 L386.93 515.39 L387.43 515.75 L387.93 515.89 L388.43 515.9 L388.93 516.23 L389.43 517.13 L389.93 517.45 L390.33 517.7 Z" fill="#8e22e8" stroke="#111" stroke-width="0.95" stroke-linejoin="round"/>
<line x1="309.1" y1="424.5" x2="309.1" y2="411.2" stroke="#1a1a1a" stroke-width="0.9"/>
<line x1="306.2" y1="423.72" x2="306.2" y2="414.7" stroke="#1a1a1a" stroke-width="0.9"/>
<path d="M244.6 310.3H417V517.7" fill="none" stroke="#7a7a7a" stroke-width="1"/>
<path d="M244.6 310.3V517.7" fill="none" stroke="#333" stroke-width="1.2"/>
<path d="M241.2 517.7H417" fill="none" stroke="#000" stroke-width="1.6"/>
<path d="M241.2 517.7H244.6M242.3 509.4H244.6M242.3 501.11H244.6M242.3 492.81H244.6M242.3 484.52H244.6M241.2 476.22H244.6M242.3 467.92H244.6M242.3 459.63H244.6M242.3 451.33H244.6M242.3 443.04H244.6M241.2 434.74H244.6M242.3 426.44H244.6M242.3 418.15H244.6M242.3 409.85H244.6M242.3 401.56H244.6M241.2 393.26H244.6M242.3 384.96H244.6M242.3 376.67H244.6M242.3 368.37H244.6M242.3 360.08H244.6M241.2 351.78H244.6M242.3 343.48H244.6M242.3 335.19H244.6M242.3 326.89H244.6M242.3 318.6H244.6M241.2 310.3H244.6M245.8 517.7V520.5M258 517.7V520.5M270.2 517.7V520.5M282.4 517.7V520.5M294.6 517.7V520.5M306.8 517.7V520.5M319 517.7V520.5M331.2 517.7V520.5M343.4 517.7V520.5M355.6 517.7V520.5M367.8 517.7V520.5M380 517.7V520.5M392.2 517.7V520.5M404.4 517.7V520.5M416.6 517.7V520.5" stroke="#222" stroke-width="1"/>
<text transform="translate(237.7 517.7) rotate(-90)" class="tl" x="-1.9" textLength="4.6" lengthAdjust="spacingAndGlyphs" style="text-anchor:start">0</text>
<text transform="translate(237.7 476.22) rotate(-90)" class="tl" x="-4.25" textLength="9.3" lengthAdjust="spacingAndGlyphs" style="text-anchor:start">70</text>
<text transform="translate(237.7 434.74) rotate(-90)" class="tl" x="-6.4" textLength="13.6" lengthAdjust="spacingAndGlyphs" style="text-anchor:start">140</text>
<text transform="translate(237.7 393.26) rotate(-90)" class="tl" x="-6.4" textLength="13.6" lengthAdjust="spacingAndGlyphs" style="text-anchor:start">210</text>
<text transform="translate(237.7 351.78) rotate(-90)" class="tl" x="-6.4" textLength="13.6" lengthAdjust="spacingAndGlyphs" style="text-anchor:start">280</text>
<text transform="translate(237.7 310.3) rotate(-90)" class="tl" x="-6.4" textLength="13.6" lengthAdjust="spacingAndGlyphs" style="text-anchor:start">350</text>
<text transform="translate(229 414.3) rotate(-90)" class="tl" x="-13.1" textLength="26.2" lengthAdjust="spacingAndGlyphs" style="text-anchor:start;font-size:9.3px">Counts</text>
<text x="245.8" y="532.3" class="tl">0</text>
<text x="307.2" y="532.3" class="tl">200</text>
<text x="368.6" y="532.3" class="tl">400</text>
<text x="340" y="539.6" class="tl">FL2-A</text>
<path d="M254.5 401.5H294.5M254.5 393.7V409.3M294.5 393.7V409.3M294.5 398.5H319.5M294.5 390.7V406.3M319.5 390.7V406.3M319.5 423.5H354.5M319.5 415.7V431.3M354.5 415.7V431.3M354.5 440.5H388.5M354.5 432.7V448.3M388.5 432.7V448.3" stroke="#1a1a1a" stroke-width="1.2" fill="none"/>
<text x="274.6" y="411.8" class="ml" textLength="10.8" lengthAdjust="spacingAndGlyphs">M4</text>
<text x="301.1" y="391.5" class="ml" textLength="10.8" lengthAdjust="spacingAndGlyphs">M1</text>
<text x="329" y="415.7" class="ml" textLength="10.8" lengthAdjust="spacingAndGlyphs">M2</text>
<text x="365.25" y="433.4" class="ml" textLength="10.8" lengthAdjust="spacingAndGlyphs">M3</text>
<text x="299.6" y="303.8" class="tt" textLength="69.9" lengthAdjust="spacingAndGlyphs">40 µg/mL</text>
<path d="M64.89 815.1 L64.89 815.1 L65.39 814.48 L65.89 814.35 L66.39 814.48 L66.89 813.97 L67.39 813.49 L67.89 812.68 L68.39 812.92 L68.89 812.89 L69.39 812.98 L69.89 813.03 L70.39 813.91 L70.89 813.84 L71.39 813.93 L71.89 813.76 L72.39 812.86 L72.89 813.11 L73.39 812.35 L73.89 812.15 L74.39 812.14 L74.89 812.67 L75.39 812.46 L75.89 812.98 L76.39 812.68 L76.89 813.03 L77.39 813.21 L77.89 813.36 L78.39 813.47 L78.89 813.04 L79.39 813.19 L79.89 812.99 L80.39 813.64 L80.89 813.9 L81.39 814.33 L81.89 813.86 L82.39 813.97 L82.89 814.25 L83.39 813.74 L83.89 814.17 L84.39 814.08 L84.89 813.84 L85.39 813.35 L85.89 812.54 L86.39 813.15 L86.89 813.53 L87.39 813.57 L87.89 813.53 L88.39 812.96 L88.89 813.34 L89.39 812.86 L89.89 813.63 L90.39 813.17 L90.89 813.23 L91.39 813.46 L91.89 813.18 L92.39 813.6 L92.89 813.91 L93.39 814.23 L93.89 814.2 L94.39 813.84 L94.89 813.91 L95.39 813.21 L95.89 813.03 L96.39 812.14 L96.89 812.2 L97.39 813.28 L97.89 813.3 L98.39 813.57 L98.89 812.97 L99.39 813.53 L99.89 812.2 L100.39 811.73 L100.89 810.86 L101.39 810.23 L101.89 808.92 L102.39 808.39 L102.89 808.65 L103.39 807.98 L103.89 806.37 L104.39 804.42 L104.89 799.85 L105.39 794.88 L105.89 788.43 L106.39 780.48 L106.89 769.89 L107.39 758.35 L107.89 744.3 L108.39 730.13 L108.89 717.45 L109.39 705.24 L109.89 696.27 L110.39 687.55 L110.89 680.52 L111.39 676.91 L111.89 672.39 L112.39 667.6 L112.89 671.08 L113.39 675.05 L113.89 678.45 L114.39 686.48 L114.89 695.38 L115.39 704.6 L115.89 712.24 L116.39 720.3 L116.89 727.68 L117.39 735.72 L117.89 744.52 L118.39 753.38 L118.89 761.01 L119.39 768.35 L119.89 775.11 L120.39 780.11 L120.89 783.84 L121.39 787.07 L121.89 791.22 L122.39 792.98 L122.89 793.12 L123.39 793.29 L123.89 795.35 L124.39 796.68 L124.89 797.27 L125.39 797.23 L125.89 797.52 L126.39 797.12 L126.89 796.94 L127.39 796.79 L127.89 797.07 L128.39 797.85 L128.89 799.13 L129.39 799.91 L129.89 800.77 L130.39 800.57 L130.89 800.88 L131.39 801.06 L131.89 800.88 L132.39 800.65 L132.89 800.67 L133.39 801.06 L133.89 800.42 L134.39 801.07 L134.89 801.23 L135.39 801.42 L135.89 801.36 L136.39 801 L136.89 801.6 L137.39 800.87 L137.89 799.77 L138.39 799.45 L138.89 799.15 L139.39 798.33 L139.89 797.92 L140.39 798.51 L140.89 798.94 L141.39 799.91 L141.89 798.72 L142.39 798.17 L142.89 797.99 L143.39 797.98 L143.89 797.78 L144.39 797.82 L144.89 799.11 L145.39 800.35 L145.89 801.28 L146.39 800.76 L146.89 799.72 L147.39 798.82 L147.89 799.59 L148.39 799.56 L148.89 799.71 L149.39 800.49 L149.89 800.39 L150.39 800.69 L150.89 799.95 L151.39 798.67 L151.89 797.12 L152.39 798.16 L152.89 799.07 L153.39 799.53 L153.89 799.1 L154.39 798.86 L154.89 798.38 L155.39 798.08 L155.89 797.78 L156.39 797.17 L156.89 796.72 L157.39 796.07 L157.89 795.57 L158.39 795.82 L158.89 796.65 L159.39 796.6 L159.89 796.56 L160.39 796.85 L160.89 797.5 L161.39 797.06 L161.89 796.58 L162.39 796.44 L162.89 796.5 L163.39 797.01 L163.89 796.95 L164.39 795.44 L164.89 794.3 L165.39 792.75 L165.89 792 L166.39 791.96 L166.89 791.68 L167.39 792.95 L167.89 793.9 L168.39 794.92 L168.89 795.09 L169.39 795.85 L169.89 795.6 L170.39 795.38 L170.89 794.58 L171.39 794.36 L171.89 793.86 L172.39 793.27 L172.89 793.16 L173.39 792.37 L173.89 791.37 L174.39 791.06 L174.89 791.22 L175.39 792.2 L175.89 792.71 L176.39 793.2 L176.89 794.36 L177.39 794.83 L177.89 796.4 L178.39 798.5 L178.89 800.41 L179.39 799.9 L179.89 799.51 L180.39 799.44 L180.89 800.2 L181.39 800.94 L181.89 801.56 L182.39 802.2 L182.89 803 L183.39 803.74 L183.89 804.1 L184.39 804.05 L184.89 804.03 L185.39 805.71 L185.89 807.22 L186.39 808.61 L186.89 809.3 L187.39 809.33 L187.89 809.9 L188.39 809.74 L188.89 809.62 L189.39 809.66 L189.89 809.97 L190.39 810.23 L190.89 810.47 L191.39 810.86 L191.89 811.55 L192.39 811.99 L192.89 813.07 L193.39 813.49 L193.89 813.78 L194.39 814.43 L194.89 814.79 L195.33 815.1 Z" fill="#8e22e8" stroke="#111" stroke-width="0.95" stroke-linejoin="round"/>
<path d="M49 607.5H223.1V815.1" fill="none" stroke="#7a7a7a" stroke-width="1"/>
<path d="M49 607.5V815.1" fill="none" stroke="#333" stroke-width="1.2"/>
<path d="M45.6 815.1H223.1" fill="none" stroke="#000" stroke-width="1.6"/>
<path d="M45.6 815.1H49M46.7 806.8H49M46.7 798.49H49M46.7 790.19H49M46.7 781.88H49M45.6 773.58H49M46.7 765.28H49M46.7 756.97H49M46.7 748.67H49M46.7 740.36H49M45.6 732.06H49M46.7 723.76H49M46.7 715.45H49M46.7 707.15H49M46.7 698.84H49M45.6 690.54H49M46.7 682.24H49M46.7 673.93H49M46.7 665.63H49M46.7 657.32H49M45.6 649.02H49M46.7 640.72H49M46.7 632.41H49M46.7 624.11H49M46.7 615.8H49M45.6 607.5H49M50.2 815.1V817.9M62.4 815.1V817.9M74.6 815.1V817.9M86.8 815.1V817.9M99 815.1V817.9M111.2 815.1V817.9M123.4 815.1V817.9M135.6 815.1V817.9M147.8 815.1V817.9M160 815.1V817.9M172.2 815.1V817.9M184.4 815.1V817.9M196.6 815.1V817.9M208.8 815.1V817.9M221 815.1V817.9" stroke="#222" stroke-width="1"/>
<text transform="translate(42.1 815.1) rotate(-90)" class="tl" x="-1.9" textLength="4.6" lengthAdjust="spacingAndGlyphs" style="text-anchor:start">0</text>
<text transform="translate(42.1 773.58) rotate(-90)" class="tl" x="-4.25" textLength="9.3" lengthAdjust="spacingAndGlyphs" style="text-anchor:start">60</text>
<text transform="translate(42.1 732.06) rotate(-90)" class="tl" x="-6.4" textLength="13.6" lengthAdjust="spacingAndGlyphs" style="text-anchor:start">120</text>
<text transform="translate(42.1 690.54) rotate(-90)" class="tl" x="-6.4" textLength="13.6" lengthAdjust="spacingAndGlyphs" style="text-anchor:start">180</text>
<text transform="translate(42.1 649.02) rotate(-90)" class="tl" x="-6.4" textLength="13.6" lengthAdjust="spacingAndGlyphs" style="text-anchor:start">240</text>
<text transform="translate(42.1 607.5) rotate(-90)" class="tl" x="-6.4" textLength="13.6" lengthAdjust="spacingAndGlyphs" style="text-anchor:start">300</text>
<text transform="translate(33.4 711.6) rotate(-90)" class="tl" x="-13.1" textLength="26.2" lengthAdjust="spacingAndGlyphs" style="text-anchor:start;font-size:9.3px">Counts</text>
<text x="50.2" y="829.7" class="tl">0</text>
<text x="111.6" y="829.7" class="tl">200</text>
<text x="173" y="829.7" class="tl">400</text>
<text x="144.4" y="837" class="tl">FL2-A</text>
<path d="M59.5 698.5H98.5M59.5 690.7V706.3M98.5 690.7V706.3M98.5 695.5H123.5M98.5 687.7V703.3M123.5 687.7V703.3M123.5 720.5H155.5M123.5 712.7V728.3M155.5 712.7V728.3M155.5 736.5H194.5M155.5 728.7V744.3M194.5 728.7V744.3" stroke="#1a1a1a" stroke-width="1.2" fill="none"/>
<text x="79" y="708.9" class="ml" textLength="10.8" lengthAdjust="spacingAndGlyphs">M4</text>
<text x="105.55" y="688.6" class="ml" textLength="10.8" lengthAdjust="spacingAndGlyphs">M1</text>
<text x="132.6" y="712.8" class="ml" textLength="10.8" lengthAdjust="spacingAndGlyphs">M2</text>
<text x="168.5" y="729.5" class="ml" textLength="10.8" lengthAdjust="spacingAndGlyphs">M3</text>
<text x="103.1" y="603.1" class="tt" textLength="53.3" lengthAdjust="spacingAndGlyphs">control</text>
<path d="M269.41 813.9 L269.41 813.9 L269.91 812.83 L270.41 811.89 L270.91 811.94 L271.41 811.79 L271.91 811.83 L272.41 811.77 L272.91 811.92 L273.41 811.87 L273.91 811.98 L274.41 811.75 L274.91 811.23 L275.41 810.54 L275.91 810.83 L276.41 811.84 L276.91 812.26 L277.41 811.68 L277.91 811.75 L278.41 811.27 L278.91 811.29 L279.41 811.89 L279.91 812.6 L280.41 812.95 L280.91 812.48 L281.41 812.69 L281.91 811.96 L282.41 811.2 L282.91 810.63 L283.41 811.3 L283.91 811.83 L284.41 812.08 L284.91 812.23 L285.41 812.53 L285.91 813.06 L286.41 812.8 L286.91 812.23 L287.41 811.99 L287.91 812.12 L288.41 811.63 L288.91 811.84 L289.41 812.02 L289.91 811.52 L290.41 811.03 L290.91 811.86 L291.41 812.09 L291.91 813.07 L292.41 812.77 L292.91 812.3 L293.41 812.39 L293.91 811.74 L294.41 811.49 L294.91 810.69 L295.41 810.83 L295.91 811.21 L296.41 811.12 L296.91 811.66 L297.41 811.8 L297.91 812.57 L298.41 812.53 L298.91 812.59 L299.41 812.42 L299.91 811.99 L300.41 812.43 L300.91 812.42 L301.41 812.12 L301.91 811.48 L302.41 810.03 L302.91 809.26 L303.41 808.21 L303.91 807.82 L304.41 806.2 L304.91 803.37 L305.41 801.34 L305.91 799.66 L306.41 794.91 L306.91 789.42 L307.41 782.97 L307.91 773.38 L308.41 763.25 L308.91 753.58 L309.41 743.85 L309.91 731.28 L310.41 717.48 L310.91 703.8 L311.41 686.84 L311.91 670.68 L312.41 655.11 L312.91 640.73 L313.41 638.12 L313.91 637.68 L314.41 640.58 L314.91 644.17 L315.41 651.45 L315.91 659.06 L316.41 666.25 L316.91 676.99 L317.41 688.67 L317.91 699.51 L318.41 711.32 L318.91 724.3 L319.41 737.6 L319.91 747.31 L320.41 755.5 L320.91 762.08 L321.41 768.67 L321.91 772.89 L322.41 778.33 L322.91 784.43 L323.41 789.41 L323.91 790.37 L324.41 791.12 L324.91 791.81 L325.41 794.26 L325.91 796.01 L326.41 798.76 L326.91 799.96 L327.41 800.65 L327.91 800.74 L328.41 800.85 L328.91 800.93 L329.41 801.28 L329.91 801.77 L330.41 801.73 L330.91 802.52 L331.41 802.77 L331.91 802.99 L332.41 803.1 L332.91 802.71 L333.41 802.42 L333.91 801.56 L334.41 801.68 L334.91 801.71 L335.41 801.22 L335.91 801.96 L336.41 802.14 L336.91 801.97 L337.41 802.57 L337.91 802.45 L338.41 802.28 L338.91 802.05 L339.41 802.25 L339.91 801.86 L340.41 801.43 L340.91 801.5 L341.41 800.92 L341.91 800.95 L342.41 799.93 L342.91 799.75 L343.41 800.31 L343.91 800.54 L344.41 801.39 L344.91 800.94 L345.41 801.22 L345.91 800.73 L346.41 800.82 L346.91 800.86 L347.41 800.82 L347.91 800.86 L348.41 801.43 L348.91 801.26 L349.41 801.95 L349.91 801.83 L350.41 801.97 L350.91 801.68 L351.41 800.62 L351.91 800.07 L352.41 799.54 L352.91 799.27 L353.41 799.11 L353.91 799.24 L354.41 799.64 L354.91 799.78 L355.41 799.13 L355.91 799.33 L356.41 799.03 L356.91 799.64 L357.41 799.54 L357.91 799.91 L358.41 799.53 L358.91 799.39 L359.41 799.27 L359.91 799.19 L360.41 799.34 L360.91 799.41 L361.41 798.04 L361.91 797.38 L362.41 796.32 L362.91 795.58 L363.41 795.28 L363.91 794.82 L364.41 795.18 L364.91 796.05 L365.41 796.33 L365.91 795.19 L366.41 793.49 L366.91 792.25 L367.41 793.36 L367.91 794.21 L368.41 794.94 L368.91 794.13 L369.41 793.67 L369.91 792.47 L370.41 792.78 L370.91 792.42 L371.41 792.57 L371.91 792.26 L372.41 791.34 L372.91 791.11 L373.41 792.11 L373.91 793.59 L374.41 795.24 L374.91 795.3 L375.41 795.43 L375.91 795.52 L376.41 795.26 L376.91 795.32 L377.41 794.96 L377.91 796.61 L378.41 798.78 L378.91 800.13 L379.41 800.86 L379.91 801.3 L380.41 802.17 L380.91 801.99 L381.41 801.8 L381.91 802.04 L382.41 802.97 L382.91 802.96 L383.41 803.58 L383.91 803.96 L384.41 804.18 L384.91 803.68 L385.41 804.53 L385.91 805.59 L386.41 806.12 L386.91 806.96 L387.41 807.15 L387.91 808.16 L388.41 807.61 L388.91 807.69 L389.41 808.13 L389.91 808.53 L390.41 809.55 L390.91 810.1 L391.41 810.42 L391.91 811.17 L392.41 811.46 L392.91 810.88 L393.41 811.26 L393.91 810.92 L394.41 811.48 L394.91 811.83 L395.41 812.15 L395.91 812.46 L396.41 812.76 L396.91 813.21 L397.41 813.22 L397.91 813.37 L398.41 813.52 L398.91 813.67 L399.13 813.9 Z" fill="#8e22e8" stroke="#111" stroke-width="0.95" stroke-linejoin="round"/>
<line x1="313.6" y1="641.81" x2="313.6" y2="620.4" stroke="#1a1a1a" stroke-width="0.9"/>
<path d="M254.1 606.8H427.1V813.9" fill="none" stroke="#7a7a7a" stroke-width="1"/>
<path d="M254.1 606.8V813.9" fill="none" stroke="#333" stroke-width="1.2"/>
<path d="M250.7 813.9H427.1" fill="none" stroke="#000" stroke-width="1.6"/>
<path d="M250.7 813.9H254.1M251.8 805.62H254.1M251.8 797.33H254.1M251.8 789.05H254.1M251.8 780.76H254.1M250.7 772.48H254.1M251.8 764.2H254.1M251.8 755.91H254.1M251.8 747.63H254.1M251.8 739.34H254.1M250.7 731.06H254.1M251.8 722.78H254.1M251.8 714.49H254.1M251.8 706.21H254.1M251.8 697.92H254.1M250.7 689.64H254.1M251.8 681.36H254.1M251.8 673.07H254.1M251.8 664.79H254.1M251.8 656.5H254.1M250.7 648.22H254.1M251.8 639.94H254.1M251.8 631.65H254.1M251.8 623.37H254.1M251.8 615.08H254.1M250.7 606.8H254.1M255.3 813.9V816.7M267.5 813.9V816.7M279.7 813.9V816.7M291.9 813.9V816.7M304.1 813.9V816.7M316.3 813.9V816.7M328.5 813.9V816.7M340.7 813.9V816.7M352.9 813.9V816.7M365.1 813.9V816.7M377.3 813.9V816.7M389.5 813.9V816.7M401.7 813.9V816.7M413.9 813.9V816.7M426.1 813.9V816.7" stroke="#222" stroke-width="1"/>
<text transform="translate(247.2 813.9) rotate(-90)" class="tl" x="-1.9" textLength="4.6" lengthAdjust="spacingAndGlyphs" style="text-anchor:start">0</text>
<text transform="translate(247.2 772.48) rotate(-90)" class="tl" x="-4.25" textLength="9.3" lengthAdjust="spacingAndGlyphs" style="text-anchor:start">60</text>
<text transform="translate(247.2 731.06) rotate(-90)" class="tl" x="-6.4" textLength="13.6" lengthAdjust="spacingAndGlyphs" style="text-anchor:start">120</text>
<text transform="translate(247.2 689.64) rotate(-90)" class="tl" x="-6.4" textLength="13.6" lengthAdjust="spacingAndGlyphs" style="text-anchor:start">180</text>
<text transform="translate(247.2 648.22) rotate(-90)" class="tl" x="-6.4" textLength="13.6" lengthAdjust="spacingAndGlyphs" style="text-anchor:start">240</text>
<text transform="translate(247.2 606.8) rotate(-90)" class="tl" x="-6.4" textLength="13.6" lengthAdjust="spacingAndGlyphs" style="text-anchor:start">300</text>
<text transform="translate(238.5 710.65) rotate(-90)" class="tl" x="-13.1" textLength="26.2" lengthAdjust="spacingAndGlyphs" style="text-anchor:start;font-size:9.3px">Counts</text>
<text x="255.3" y="828.5" class="tl">0</text>
<text x="316.7" y="828.5" class="tl">200</text>
<text x="378.1" y="828.5" class="tl">400</text>
<text x="349.5" y="835.8" class="tl">FL2-A</text>
<path d="M264.5 697.5H304.5M264.5 689.7V705.3M304.5 689.7V705.3M304.5 694.5H328.5M304.5 686.7V702.3M328.5 686.7V702.3M328.5 719.5H360.5M328.5 711.7V727.3M360.5 711.7V727.3M360.5 734.5H399.5M360.5 726.7V742.3M399.5 726.7V742.3" stroke="#1a1a1a" stroke-width="1.2" fill="none"/>
<text x="284.1" y="707.7" class="ml" textLength="10.8" lengthAdjust="spacingAndGlyphs">M4</text>
<text x="310.65" y="687.4" class="ml" textLength="10.8" lengthAdjust="spacingAndGlyphs">M1</text>
<text x="337.7" y="711.6" class="ml" textLength="10.8" lengthAdjust="spacingAndGlyphs">M2</text>
<text x="373.6" y="728.3" class="ml" textLength="10.8" lengthAdjust="spacingAndGlyphs">M3</text>
<text x="307.1" y="601" class="tt" textLength="69.9" lengthAdjust="spacingAndGlyphs">10µg/mL</text>
<path d="M472.61 814 L472.61 813.9 L473.11 811.75 L473.61 810.03 L474.11 810.24 L474.61 810.22 L475.11 810.44 L475.61 810.47 L476.11 809.66 L476.61 809.66 L477.11 809.27 L477.61 809.83 L478.11 810.65 L478.61 811.01 L479.11 810.88 L479.61 810.47 L480.11 809.56 L480.61 810.13 L481.11 810.62 L481.61 811.32 L482.11 810.61 L482.61 810.01 L483.11 809.76 L483.61 809.67 L484.11 809.82 L484.61 809.63 L485.11 809.9 L485.61 810.72 L486.11 810.77 L486.61 810.89 L487.11 810.45 L487.61 809.83 L488.11 810.08 L488.61 809.75 L489.11 809.11 L489.61 809.57 L490.11 809.48 L490.61 810.27 L491.11 809.77 L491.61 809.84 L492.11 809.97 L492.61 810.47 L493.11 810.83 L493.61 810.82 L494.11 811.08 L494.61 811.31 L495.11 811.53 L495.61 811.21 L496.11 810.79 L496.61 810.42 L497.11 810.32 L497.61 810.79 L498.11 810.65 L498.61 810.73 L499.11 810.83 L499.61 811.16 L500.11 811.17 L500.61 811.16 L501.11 810.89 L501.61 810.95 L502.11 810.74 L502.61 810.94 L503.11 810.47 L503.61 809.91 L504.11 809.42 L504.61 809.69 L505.11 809.59 L505.61 810.15 L506.11 810.09 L506.61 809.71 L507.11 809.25 L507.61 807.96 L508.11 805.76 L508.61 804.14 L509.11 801.76 L509.61 798.2 L510.11 792.83 L510.61 787.37 L511.11 779.85 L511.61 769.8 L512.11 758.63 L512.61 747.9 L513.11 735.9 L513.61 719.7 L514.11 704.14 L514.61 689.56 L515.11 674.73 L515.61 660.4 L516.11 646.54 L516.61 632.43 L517.11 626.34 L517.61 618.88 L518.11 623.57 L518.61 629.78 L519.11 638.1 L519.61 647.19 L520.11 657.24 L520.61 666.97 L521.11 680.07 L521.61 694.34 L522.11 708.01 L522.61 720.36 L523.11 732.98 L523.61 742.85 L524.11 750.96 L524.61 758.47 L525.11 766.2 L525.61 771.79 L526.11 776.35 L526.61 781.38 L527.11 786.18 L527.61 789.41 L528.11 793.2 L528.61 794.9 L529.11 796.79 L529.61 799.27 L530.11 799.82 L530.61 800.84 L531.11 802.02 L531.61 802.07 L532.11 802.94 L532.61 803.64 L533.11 803.14 L533.61 803.48 L534.11 803.2 L534.61 803.58 L535.11 803.06 L535.61 803.49 L536.11 804.15 L536.61 804.85 L537.11 805.89 L537.61 805.29 L538.11 805.37 L538.61 805.11 L539.11 804.75 L539.61 804.87 L540.11 804.47 L540.61 804.82 L541.11 804.82 L541.61 805.2 L542.11 805.12 L542.61 805.31 L543.11 805.96 L543.61 805.3 L544.11 805.28 L544.61 804.68 L545.11 804.77 L545.61 804.7 L546.11 805.22 L546.61 804.42 L547.11 803.54 L547.61 802.77 L548.11 803.15 L548.61 803.84 L549.11 803.67 L549.61 804.35 L550.11 804.35 L550.61 804.49 L551.11 804.68 L551.61 803.8 L552.11 803.68 L552.61 803.74 L553.11 803.57 L553.61 803.31 L554.11 803.24 L554.61 803.62 L555.11 804.15 L555.61 804.52 L556.11 804.76 L556.61 804.57 L557.11 805.19 L557.61 805.12 L558.11 805.49 L558.61 805.36 L559.11 805.72 L559.61 806.04 L560.11 804.52 L560.61 803.48 L561.11 801.93 L561.61 801.77 L562.11 801.6 L562.61 802.19 L563.11 802.4 L563.61 803 L564.11 803.16 L564.61 801.65 L565.11 800.42 L565.61 799.65 L566.11 798.7 L566.61 797.39 L567.11 796.62 L567.61 796.77 L568.11 796.42 L568.61 796.38 L569.11 795.72 L569.61 795.88 L570.11 795.43 L570.61 794.23 L571.11 793.21 L571.61 792.1 L572.11 791.93 L572.61 791.21 L573.11 791.18 L573.61 791.64 L574.11 791.63 L574.61 791.58 L575.11 790.85 L575.61 790.19 L576.11 789.72 L576.61 790.65 L577.11 791.79 L577.61 792.28 L578.11 790.93 L578.61 790.08 L579.11 789.05 L579.61 789.91 L580.11 791.78 L580.61 792.9 L581.11 793.53 L581.61 794.85 L582.11 795.89 L582.61 796.32 L583.11 797.1 L583.61 797.53 L584.11 798.96 L584.61 799.95 L585.11 801.12 L585.61 803.1 L586.11 804.02 L586.61 805.13 L587.11 805.88 L587.61 806.76 L588.11 807.5 L588.61 807.96 L589.11 808.62 L589.61 809.14 L590.11 809.24 L590.61 809.65 L591.11 810.06 L591.61 809.92 L592.11 809.9 L592.61 809.31 L593.11 809.53 L593.61 809.86 L594.11 809.95 L594.61 810.83 L595.11 811.35 L595.61 812.12 L596.11 812.66 L596.61 812.77 L597.11 813.08 L597.61 812.47 L598.11 812.7 L598.61 813.37 L598.72 814 Z" fill="#8e22e8" stroke="#111" stroke-width="0.95" stroke-linejoin="round"/>
<path d="M457 606.3H630V814" fill="none" stroke="#7a7a7a" stroke-width="1"/>
<path d="M457 606.3V814" fill="none" stroke="#333" stroke-width="1.2"/>
<path d="M453.6 814H630" fill="none" stroke="#000" stroke-width="1.6"/>
<path d="M453.6 814H457M454.7 805.69H457M454.7 797.38H457M454.7 789.08H457M454.7 780.77H457M453.6 772.46H457M454.7 764.15H457M454.7 755.84H457M454.7 747.54H457M454.7 739.23H457M453.6 730.92H457M454.7 722.61H457M454.7 714.3H457M454.7 706H457M454.7 697.69H457M453.6 689.38H457M454.7 681.07H457M454.7 672.76H457M454.7 664.46H457M454.7 656.15H457M453.6 647.84H457M454.7 639.53H457M454.7 631.22H457M454.7 622.92H457M454.7 614.61H457M453.6 606.3H457M458.2 814V816.8M470.4 814V816.8M482.6 814V816.8M494.8 814V816.8M507 814V816.8M519.2 814V816.8M531.4 814V816.8M543.6 814V816.8M555.8 814V816.8M568 814V816.8M580.2 814V816.8M592.4 814V816.8M604.6 814V816.8M616.8 814V816.8M629 814V816.8" stroke="#222" stroke-width="1"/>
<text transform="translate(450.1 814) rotate(-90)" class="tl" x="-1.9" textLength="4.6" lengthAdjust="spacingAndGlyphs" style="text-anchor:start">0</text>
<text transform="translate(450.1 772.46) rotate(-90)" class="tl" x="-4.25" textLength="9.3" lengthAdjust="spacingAndGlyphs" style="text-anchor:start">60</text>
<text transform="translate(450.1 730.92) rotate(-90)" class="tl" x="-6.4" textLength="13.6" lengthAdjust="spacingAndGlyphs" style="text-anchor:start">120</text>
<text transform="translate(450.1 689.38) rotate(-90)" class="tl" x="-6.4" textLength="13.6" lengthAdjust="spacingAndGlyphs" style="text-anchor:start">180</text>
<text transform="translate(450.1 647.84) rotate(-90)" class="tl" x="-6.4" textLength="13.6" lengthAdjust="spacingAndGlyphs" style="text-anchor:start">240</text>
<text transform="translate(450.1 606.3) rotate(-90)" class="tl" x="-6.4" textLength="13.6" lengthAdjust="spacingAndGlyphs" style="text-anchor:start">300</text>
<text transform="translate(441.4 710.45) rotate(-90)" class="tl" x="-13.1" textLength="26.2" lengthAdjust="spacingAndGlyphs" style="text-anchor:start;font-size:9.3px">Counts</text>
<text x="458.2" y="828.6" class="tl">0</text>
<text x="519.6" y="828.6" class="tl">200</text>
<text x="581" y="828.6" class="tl">400</text>
<text x="552.4" y="835.9" class="tl">FL2-A</text>
<path d="M467.5 697.5H506.5M467.5 689.7V705.3M506.5 689.7V705.3M506.5 694.5H531.5M506.5 686.7V702.3M531.5 686.7V702.3M531.5 719.5H563.5M531.5 711.7V727.3M563.5 711.7V727.3M563.5 735.5H602.5M563.5 727.7V743.3M602.5 727.7V743.3" stroke="#1a1a1a" stroke-width="1.2" fill="none"/>
<text x="487" y="707.8" class="ml" textLength="10.8" lengthAdjust="spacingAndGlyphs">M4</text>
<text x="513.55" y="687.5" class="ml" textLength="10.8" lengthAdjust="spacingAndGlyphs">M1</text>
<text x="540.6" y="711.7" class="ml" textLength="10.8" lengthAdjust="spacingAndGlyphs">M2</text>
<text x="576.5" y="728.4" class="ml" textLength="10.8" lengthAdjust="spacingAndGlyphs">M3</text>
<text x="511.3" y="601.5" class="tt" textLength="71" lengthAdjust="spacingAndGlyphs">20 µg/mL</text>
<path d="M44.89 1087.3 L44.89 1087.25 L45.39 1084.86 L45.89 1082.71 L46.39 1082.25 L46.89 1081.75 L47.39 1081.14 L47.89 1080.65 L48.39 1080.74 L48.89 1080.53 L49.39 1080.95 L49.89 1081.04 L50.39 1081.41 L50.89 1081.8 L51.39 1082.44 L51.89 1082.43 L52.39 1082.6 L52.89 1082.34 L53.39 1081.86 L53.89 1081.1 L54.39 1081.28 L54.89 1082.28 L55.39 1082.8 L55.89 1082.53 L56.39 1082.46 L56.89 1082.43 L57.39 1082.66 L57.89 1082.16 L58.39 1082.63 L58.89 1082.55 L59.39 1083.3 L59.89 1083.64 L60.39 1083.73 L60.89 1083.95 L61.39 1083.81 L61.89 1083.91 L62.39 1084.31 L62.89 1083.92 L63.39 1084.16 L63.89 1084.15 L64.39 1083.97 L64.89 1083.62 L65.39 1083.54 L65.89 1084.11 L66.39 1083.85 L66.89 1082.97 L67.39 1082.98 L67.89 1082.61 L68.39 1083.1 L68.89 1083.16 L69.39 1083.03 L69.89 1082.37 L70.39 1082.28 L70.89 1082.89 L71.39 1083 L71.89 1084.08 L72.39 1083.14 L72.89 1083.1 L73.39 1082.19 L73.89 1082.65 L74.39 1082.62 L74.89 1083.48 L75.39 1083.56 L75.89 1084.11 L76.39 1084.19 L76.89 1084.04 L77.39 1083.73 L77.89 1083.48 L78.39 1082.64 L78.89 1081.79 L79.39 1080.82 L79.89 1079.04 L80.39 1077.08 L80.89 1074.67 L81.39 1071.7 L81.89 1068.12 L82.39 1063.57 L82.89 1057.64 L83.39 1050.87 L83.89 1043.63 L84.39 1036.07 L84.89 1029 L85.39 1020.44 L85.89 1009.84 L86.39 999.53 L86.89 989.1 L87.39 979.3 L87.89 969.44 L88.39 961.53 L88.89 953.27 L89.39 944.14 L89.89 942.77 L90.39 941.1 L90.89 939.24 L91.39 939.17 L91.89 941.81 L92.39 943.47 L92.89 953.29 L93.39 961.98 L93.89 970.76 L94.39 979.45 L94.89 987.39 L95.39 995.72 L95.89 1004.63 L96.39 1012.88 L96.89 1020.87 L97.39 1028.33 L97.89 1034.78 L98.39 1039.89 L98.89 1046.16 L99.39 1051 L99.89 1055.92 L100.39 1060.4 L100.89 1065.2 L101.39 1069.91 L101.89 1073.95 L102.39 1077.14 L102.89 1078.02 L103.39 1078.65 L103.89 1079.38 L104.39 1080.75 L104.89 1080.86 L105.39 1080.04 L105.89 1079.68 L106.39 1079.7 L106.89 1079.08 L107.39 1078.98 L107.89 1078.55 L108.39 1078.97 L108.89 1079.23 L109.39 1078.74 L109.89 1079.65 L110.39 1079.69 L110.89 1080.66 L111.39 1079.83 L111.89 1079.5 L112.39 1078.72 L112.89 1078.63 L113.39 1078.01 L113.89 1078.13 L114.39 1078.08 L114.89 1078.62 L115.39 1079.26 L115.89 1079.63 L116.39 1080.07 L116.89 1080.32 L117.39 1079.96 L117.89 1079.3 L118.39 1078.02 L118.89 1078.01 L119.39 1078.05 L119.89 1078.3 L120.39 1078.92 L120.89 1079.41 L121.39 1080.1 L121.89 1080.33 L122.39 1080.21 L122.89 1080.5 L123.39 1080.34 L123.89 1080.34 L124.39 1080.34 L124.89 1079.31 L125.39 1078.77 L125.89 1078.27 L126.39 1077.7 L126.89 1077.03 L127.39 1076.25 L127.89 1076.38 L128.39 1076.54 L128.89 1076.71 L129.39 1076.11 L129.89 1075.37 L130.39 1074.31 L130.89 1075.2 L131.39 1075.71 L131.89 1076.21 L132.39 1075.55 L132.89 1073.83 L133.39 1073.4 L133.89 1071.43 L134.39 1069.62 L134.89 1068.48 L135.39 1067.35 L135.89 1066.84 L136.39 1066.58 L136.89 1066.47 L137.39 1066.41 L137.89 1065.78 L138.39 1064.89 L138.89 1063.86 L139.39 1063.51 L139.89 1063.11 L140.39 1063.44 L140.89 1063.2 L141.39 1063.14 L141.89 1063.19 L142.39 1062.64 L142.89 1062.08 L143.39 1060.3 L143.89 1058.96 L144.39 1059.27 L144.89 1059.31 L145.39 1059.12 L145.89 1057.78 L146.39 1055.63 L146.89 1053.68 L147.39 1053.74 L147.89 1053.99 L148.39 1055.78 L148.89 1056.37 L149.39 1057 L149.89 1057.65 L150.39 1058.71 L150.89 1059.31 L151.39 1060.19 L151.89 1062.02 L152.39 1063.32 L152.89 1065.11 L153.39 1065.3 L153.89 1066.26 L154.39 1066.76 L154.89 1068.56 L155.39 1070.23 L155.89 1072 L156.39 1071.75 L156.89 1070.96 L157.39 1071.04 L157.89 1072.38 L158.39 1073.68 L158.89 1074.76 L159.39 1075.51 L159.89 1075.94 L160.39 1075.89 L160.89 1078.01 L161.39 1079.38 L161.89 1080.7 L162.39 1080.56 L162.89 1080.52 L163.39 1081.05 L163.89 1081.22 L164.39 1081.31 L164.89 1081.73 L165.39 1083.08 L165.89 1083.81 L166.39 1084.32 L166.89 1084.85 L167.39 1085.1 L167.89 1085.2 L168.39 1085.57 L168.89 1085.79 L169.39 1086.22 L169.89 1086.24 L170.39 1086.05 L170.89 1086.5 L171.39 1086.54 L171.89 1086.77 L172.39 1087 L172.89 1087.24 L172.93 1087.3 Z" fill="#8e22e8" stroke="#111" stroke-width="0.95" stroke-linejoin="round"/>
<line x1="91.2" y1="944.88" x2="91.2" y2="934.6" stroke="#1a1a1a" stroke-width="0.9"/>
<path d="M29.6 879.2H201.6V1087.3" fill="none" stroke="#7a7a7a" stroke-width="1"/>
<path d="M29.6 879.2V1087.3" fill="none" stroke="#333" stroke-width="1.2"/>
<path d="M26.2 1087.3H201.6" fill="none" stroke="#000" stroke-width="1.6"/>
<path d="M26.2 1087.3H29.6M27.3 1078.98H29.6M27.3 1070.65H29.6M27.3 1062.33H29.6M27.3 1054H29.6M26.2 1045.68H29.6M27.3 1037.36H29.6M27.3 1029.03H29.6M27.3 1020.71H29.6M27.3 1012.38H29.6M26.2 1004.06H29.6M27.3 995.74H29.6M27.3 987.41H29.6M27.3 979.09H29.6M27.3 970.76H29.6M26.2 962.44H29.6M27.3 954.12H29.6M27.3 945.79H29.6M27.3 937.47H29.6M27.3 929.14H29.6M26.2 920.82H29.6M27.3 912.5H29.6M27.3 904.17H29.6M27.3 895.85H29.6M27.3 887.52H29.6M26.2 879.2H29.6M30.8 1087.3V1090.1M43 1087.3V1090.1M55.2 1087.3V1090.1M67.4 1087.3V1090.1M79.6 1087.3V1090.1M91.8 1087.3V1090.1M104 1087.3V1090.1M116.2 1087.3V1090.1M128.4 1087.3V1090.1M140.6 1087.3V1090.1M152.8 1087.3V1090.1M165 1087.3V1090.1M177.2 1087.3V1090.1M189.4 1087.3V1090.1M201.6 1087.3V1090.1" stroke="#222" stroke-width="1"/>
<text transform="translate(22.7 1087.3) rotate(-90)" class="tl" x="-1.9" textLength="4.6" lengthAdjust="spacingAndGlyphs" style="text-anchor:start">0</text>
<text transform="translate(22.7 1045.68) rotate(-90)" class="tl" x="-4.25" textLength="9.3" lengthAdjust="spacingAndGlyphs" style="text-anchor:start">60</text>
<text transform="translate(22.7 1004.06) rotate(-90)" class="tl" x="-6.4" textLength="13.6" lengthAdjust="spacingAndGlyphs" style="text-anchor:start">120</text>
<text transform="translate(22.7 962.44) rotate(-90)" class="tl" x="-6.4" textLength="13.6" lengthAdjust="spacingAndGlyphs" style="text-anchor:start">180</text>
<text transform="translate(22.7 920.82) rotate(-90)" class="tl" x="-6.4" textLength="13.6" lengthAdjust="spacingAndGlyphs" style="text-anchor:start">240</text>
<text transform="translate(22.7 879.2) rotate(-90)" class="tl" x="-6.4" textLength="13.6" lengthAdjust="spacingAndGlyphs" style="text-anchor:start">300</text>
<text transform="translate(14 983.55) rotate(-90)" class="tl" x="-13.1" textLength="26.2" lengthAdjust="spacingAndGlyphs" style="text-anchor:start;font-size:9.3px">Counts</text>
<text x="30.8" y="1101.9" class="tl">0</text>
<text x="92.2" y="1101.9" class="tl">200</text>
<text x="153.6" y="1101.9" class="tl">400</text>
<text x="125" y="1109.2" class="tl">FL2-A</text>
<path d="M39.5 970.5H79.5M39.5 962.7V978.3M79.5 962.7V978.3M79.5 968.5H104.5M79.5 960.7V976.3M104.5 960.7V976.3M104.5 992.5H136.5M104.5 984.7V1000.3M136.5 984.7V1000.3M136.5 1008.5H174.5M136.5 1000.7V1016.3M174.5 1000.7V1016.3" stroke="#1a1a1a" stroke-width="1.2" fill="none"/>
<text x="59.6" y="981.1" class="ml" textLength="10.8" lengthAdjust="spacingAndGlyphs">M4</text>
<text x="86.15" y="960.8" class="ml" textLength="10.8" lengthAdjust="spacingAndGlyphs">M1</text>
<text x="113.2" y="985" class="ml" textLength="10.8" lengthAdjust="spacingAndGlyphs">M2</text>
<text x="149.1" y="1001.7" class="ml" textLength="10.8" lengthAdjust="spacingAndGlyphs">M3</text>
<text x="80.4" y="872.7" class="tt" textLength="69.9" lengthAdjust="spacingAndGlyphs">30µg/mL</text>
<path d="M247.89 1085.4 L247.89 1085.28 L248.39 1079.9 L248.89 1076.68 L249.39 1074.94 L249.89 1075.13 L250.39 1075.17 L250.89 1075.76 L251.39 1076.1 L251.89 1076.44 L252.39 1077.15 L252.89 1077.14 L253.39 1078.33 L253.89 1079.02 L254.39 1078.5 L254.89 1078.07 L255.39 1077.17 L255.89 1077.76 L256.39 1078.17 L256.89 1078.61 L257.39 1078.78 L257.89 1078.51 L258.39 1078.03 L258.89 1078.42 L259.39 1078.72 L259.89 1079.48 L260.39 1079.45 L260.89 1079.48 L261.39 1079.07 L261.89 1079.27 L262.39 1079.24 L262.89 1079.25 L263.39 1079.15 L263.89 1079.26 L264.39 1078.91 L264.89 1079.69 L265.39 1079.54 L265.89 1080.15 L266.39 1080.33 L266.89 1079.96 L267.39 1079.63 L267.89 1079.35 L268.39 1078.88 L268.89 1078.69 L269.39 1079.23 L269.89 1079.36 L270.39 1080.22 L270.89 1079.81 L271.39 1079.62 L271.89 1079.6 L272.39 1079.12 L272.89 1078.19 L273.39 1077.95 L273.89 1078.02 L274.39 1078.98 L274.89 1079.1 L275.39 1078.85 L275.89 1079.16 L276.39 1078.49 L276.89 1079.07 L277.39 1078.73 L277.89 1079.05 L278.39 1077.8 L278.89 1076.94 L279.39 1075.64 L279.89 1076.13 L280.39 1076.31 L280.89 1076.65 L281.39 1075.82 L281.89 1074.33 L282.39 1071.98 L282.89 1070.91 L283.39 1068.8 L283.89 1067.45 L284.39 1065.89 L284.89 1064.39 L285.39 1062.54 L285.89 1059.02 L286.39 1054.12 L286.89 1047.92 L287.39 1042.03 L287.89 1035.41 L288.39 1027.37 L288.89 1020.06 L289.39 1012.87 L289.89 1007.07 L290.39 1002.24 L290.89 996.4 L291.39 991.71 L291.89 987.73 L292.39 983.46 L292.89 979.61 L293.39 976.5 L293.89 973.88 L294.39 970.43 L294.89 971.45 L295.39 973.55 L295.89 976.48 L296.39 978.6 L296.89 981.44 L297.39 984.81 L297.89 988.77 L298.39 992.23 L298.89 997.45 L299.39 1002.65 L299.89 1007.34 L300.39 1012.57 L300.89 1018.77 L301.39 1026.21 L301.89 1034.04 L302.39 1039.96 L302.89 1046.01 L303.39 1051.17 L303.89 1057.96 L304.39 1061.77 L304.89 1065.99 L305.39 1069.64 L305.89 1070.88 L306.39 1072.01 L306.89 1072.74 L307.39 1073.24 L307.89 1074.21 L308.39 1074.13 L308.89 1074.82 L309.39 1074.68 L309.89 1075.7 L310.39 1077.16 L310.89 1078.43 L311.39 1078.43 L311.89 1077.59 L312.39 1076.68 L312.89 1076.48 L313.39 1076.75 L313.89 1077.41 L314.39 1077.24 L314.89 1078.19 L315.39 1078.11 L315.89 1077.53 L316.39 1077.64 L316.89 1076.89 L317.39 1077.41 L317.89 1078.15 L318.39 1078.27 L318.89 1078.43 L319.39 1078.81 L319.89 1078.68 L320.39 1078.3 L320.89 1077.11 L321.39 1076.68 L321.89 1077.17 L322.39 1077.15 L322.89 1077.81 L323.39 1077.27 L323.89 1076.89 L324.39 1076.81 L324.89 1076.87 L325.39 1077.14 L325.89 1076.77 L326.39 1076.57 L326.89 1075.69 L327.39 1075.56 L327.89 1075.33 L328.39 1075.58 L328.89 1075.66 L329.39 1076.06 L329.89 1076.96 L330.39 1077.52 L330.89 1076.11 L331.39 1075.66 L331.89 1074.41 L332.39 1074.29 L332.89 1074.46 L333.39 1074.59 L333.89 1074.38 L334.39 1072.96 L334.89 1072.62 L335.39 1071 L335.89 1069.6 L336.39 1068.48 L336.89 1067.92 L337.39 1067.83 L337.89 1067.31 L338.39 1066.38 L338.89 1065.27 L339.39 1063.8 L339.89 1061.47 L340.39 1059.38 L340.89 1057.15 L341.39 1056.33 L341.89 1055.19 L342.39 1054.81 L342.89 1052.94 L343.39 1051.95 L343.89 1050.4 L344.39 1050.05 L344.89 1049.17 L345.39 1048.66 L345.89 1047.35 L346.39 1046.44 L346.89 1044.85 L347.39 1044.94 L347.89 1044.53 L348.39 1044.33 L348.89 1043.11 L349.39 1042.05 L349.89 1041.24 L350.39 1040.65 L350.89 1041.03 L351.39 1040.51 L351.89 1040.61 L352.39 1042.02 L352.89 1043.58 L353.39 1043.4 L353.89 1043.62 L354.39 1043.25 L354.89 1044.25 L355.39 1045.22 L355.89 1047.25 L356.39 1047.6 L356.89 1048.3 L357.39 1048.96 L357.89 1050.46 L358.39 1051.3 L358.89 1052.71 L359.39 1055.19 L359.89 1058.86 L360.39 1061.15 L360.89 1063.1 L361.39 1064.7 L361.89 1066.53 L362.39 1068.4 L362.89 1069.79 L363.39 1071.13 L363.89 1071.65 L364.39 1071.73 L364.89 1072.15 L365.39 1074.15 L365.89 1076.11 L366.39 1077.85 L366.89 1077.89 L367.39 1078.36 L367.89 1078.99 L368.39 1079.03 L368.89 1078.86 L369.39 1078.53 L369.89 1079.13 L370.39 1079.92 L370.89 1080.68 L371.39 1081.83 L371.89 1082.27 L372.39 1082.83 L372.89 1082.63 L373.39 1082.89 L373.89 1082.24 L374.39 1082.78 L374.89 1083.2 L375.39 1082.92 L375.89 1083.61 L376.39 1084.84 L376.89 1085.14 L377.13 1085.4 Z" fill="#8e22e8" stroke="#111" stroke-width="0.95" stroke-linejoin="round"/>
<path d="M232.7 877.7H406.1V1085.4" fill="none" stroke="#7a7a7a" stroke-width="1"/>
<path d="M232.7 877.7V1085.4" fill="none" stroke="#333" stroke-width="1.2"/>
<path d="M229.3 1085.4H406.1" fill="none" stroke="#000" stroke-width="1.6"/>
<path d="M229.3 1085.4H232.7M230.4 1077.09H232.7M230.4 1068.78H232.7M230.4 1060.48H232.7M230.4 1052.17H232.7M229.3 1043.86H232.7M230.4 1035.55H232.7M230.4 1027.24H232.7M230.4 1018.94H232.7M230.4 1010.63H232.7M229.3 1002.32H232.7M230.4 994.01H232.7M230.4 985.7H232.7M230.4 977.4H232.7M230.4 969.09H232.7M229.3 960.78H232.7M230.4 952.47H232.7M230.4 944.16H232.7M230.4 935.86H232.7M230.4 927.55H232.7M229.3 919.24H232.7M230.4 910.93H232.7M230.4 902.62H232.7M230.4 894.32H232.7M230.4 886.01H232.7M229.3 877.7H232.7M233.9 1085.4V1088.2M246.1 1085.4V1088.2M258.3 1085.4V1088.2M270.5 1085.4V1088.2M282.7 1085.4V1088.2M294.9 1085.4V1088.2M307.1 1085.4V1088.2M319.3 1085.4V1088.2M331.5 1085.4V1088.2M343.7 1085.4V1088.2M355.9 1085.4V1088.2M368.1 1085.4V1088.2M380.3 1085.4V1088.2M392.5 1085.4V1088.2M404.7 1085.4V1088.2" stroke="#222" stroke-width="1"/>
<text transform="translate(225.8 1085.4) rotate(-90)" class="tl" x="-1.9" textLength="4.6" lengthAdjust="spacingAndGlyphs" style="text-anchor:start">0</text>
<text transform="translate(225.8 1043.86) rotate(-90)" class="tl" x="-4.25" textLength="9.3" lengthAdjust="spacingAndGlyphs" style="text-anchor:start">60</text>
<text transform="translate(225.8 1002.32) rotate(-90)" class="tl" x="-6.4" textLength="13.6" lengthAdjust="spacingAndGlyphs" style="text-anchor:start">120</text>
<text transform="translate(225.8 960.78) rotate(-90)" class="tl" x="-6.4" textLength="13.6" lengthAdjust="spacingAndGlyphs" style="text-anchor:start">180</text>
<text transform="translate(225.8 919.24) rotate(-90)" class="tl" x="-6.4" textLength="13.6" lengthAdjust="spacingAndGlyphs" style="text-anchor:start">240</text>
<text transform="translate(225.8 877.7) rotate(-90)" class="tl" x="-6.4" textLength="13.6" lengthAdjust="spacingAndGlyphs" style="text-anchor:start">300</text>
<text transform="translate(217.1 981.85) rotate(-90)" class="tl" x="-13.1" textLength="26.2" lengthAdjust="spacingAndGlyphs" style="text-anchor:start;font-size:9.3px">Counts</text>
<text x="233.9" y="1100" class="tl">0</text>
<text x="295.3" y="1100" class="tl">200</text>
<text x="356.7" y="1100" class="tl">400</text>
<text x="328.1" y="1107.3" class="tl">FL2-A</text>
<path d="M242.5 968.5H282.5M242.5 960.7V976.3M282.5 960.7V976.3M282.5 966.5H307.5M282.5 958.7V974.3M307.5 958.7V974.3M307.5 990.5H339.5M307.5 982.7V998.3M339.5 982.7V998.3M339.5 1006.5H377.5M339.5 998.7V1014.3M377.5 998.7V1014.3" stroke="#1a1a1a" stroke-width="1.2" fill="none"/>
<text x="262.7" y="979.2" class="ml" textLength="10.8" lengthAdjust="spacingAndGlyphs">M4</text>
<text x="289.25" y="958.9" class="ml" textLength="10.8" lengthAdjust="spacingAndGlyphs">M1</text>
<text x="316.3" y="983.1" class="ml" textLength="10.8" lengthAdjust="spacingAndGlyphs">M2</text>
<text x="352.2" y="999.8" class="ml" textLength="10.8" lengthAdjust="spacingAndGlyphs">M3</text>
<text x="285.5" y="872.2" class="tt" textLength="70.5" lengthAdjust="spacingAndGlyphs">40µg/mL</text>
<path d="M485.3 303.2V428.5" stroke="#000" stroke-width="1.8"/>
<path d="M481.1 427.6H485.3M481.1 402.9H485.3M481.1 378.2H485.3M481.1 353.5H485.3M481.1 328.8H485.3M481.1 304.1H485.3" stroke="#000" stroke-width="1.6"/>
<text x="473.8" y="430.4" class="bl" textLength="4.9" lengthAdjust="spacingAndGlyphs">0</text>
<text x="469" y="405.7" class="bl" textLength="9.7" lengthAdjust="spacingAndGlyphs">25</text>
<text x="469" y="381" class="bl" textLength="9.7" lengthAdjust="spacingAndGlyphs">50</text>
<text x="469" y="356.3" class="bl" textLength="9.7" lengthAdjust="spacingAndGlyphs">75</text>
<text x="464.2" y="331.6" class="bl" textLength="14.5" lengthAdjust="spacingAndGlyphs">100</text>
<text x="464.2" y="306.9" class="bl" textLength="14.5" lengthAdjust="spacingAndGlyphs">125</text>
<text transform="translate(457 365.8) rotate(-90)" class="yl">% of cell number</text>
<path d="M497.8 441.1H691.4" stroke="#000" stroke-width="1.9"/>
<rect x="506.15" y="328.8" width="24.5" height="21.44" fill="#5c5c5c"/>
<rect x="506.15" y="350.24" width="24.5" height="15.61" fill="#d4d4d4"/>
<rect x="506.15" y="365.85" width="24.5" height="60.76" fill="#fff"/>
<rect x="506.15" y="426.61" width="24.5" height="0.99" fill="#111"/>
<path d="M506.15 365.85H530.65M506.15 350.24H530.65" stroke="#000" stroke-width="1.7"/>
<rect x="506.15" y="328.8" width="24.5" height="98.8" fill="none" stroke="#000" stroke-width="2"/>
<path d="M518.4 426.61V424.83M512.4 424.83H524.4M518.4 365.85V362M512.4 362H524.4M518.4 350.24V346.98M512.4 346.98H524.4M518.4 328.8V321.09M512.4 321.09H524.4" stroke="#000" stroke-width="1.5"/>
<path d="M518.4 441.1V445.9" stroke="#000" stroke-width="1.5"/>
<text transform="translate(519.9 453.7) rotate(-45)" class="xl">control</text>
<rect x="544.35" y="328.8" width="24.5" height="22.72" fill="#5c5c5c"/>
<rect x="544.35" y="351.52" width="24.5" height="17.09" fill="#d4d4d4"/>
<rect x="544.35" y="368.62" width="24.5" height="57.5" fill="#fff"/>
<rect x="544.35" y="426.12" width="24.5" height="1.48" fill="#111"/>
<path d="M544.35 368.62H568.85M544.35 351.52H568.85" stroke="#000" stroke-width="1.7"/>
<rect x="544.35" y="328.8" width="24.5" height="98.8" fill="none" stroke="#000" stroke-width="2"/>
<path d="M556.6 426.12V424.24M550.6 424.24H562.6M556.6 368.62V360.42M550.6 360.42H562.6M556.6 351.52V347.97M550.6 347.97H562.6M556.6 328.8V316.94M550.6 316.94H562.6" stroke="#000" stroke-width="1.5"/>
<path d="M556.6 441.1V445.9" stroke="#000" stroke-width="1.5"/>
<text transform="translate(558.1 453.7) rotate(-45)" class="xl">10</text>
<rect x="582.85" y="328.8" width="24.5" height="23.91" fill="#5c5c5c"/>
<rect x="582.85" y="352.71" width="24.5" height="20.65" fill="#d4d4d4"/>
<rect x="582.85" y="373.36" width="24.5" height="51.47" fill="#fff"/>
<rect x="582.85" y="424.83" width="24.5" height="2.77" fill="#111"/>
<path d="M582.85 373.36H607.35M582.85 352.71H607.35" stroke="#000" stroke-width="1.7"/>
<rect x="582.85" y="328.8" width="24.5" height="98.8" fill="none" stroke="#000" stroke-width="2"/>
<path d="M595.1 424.83V423.35M589.1 423.35H601.1M595.1 373.36V360.02M589.1 360.02H601.1M595.1 352.71V349.55M589.1 349.55H601.1M595.1 328.8V312.6M589.1 312.6H601.1" stroke="#000" stroke-width="1.5"/>
<text x="595.1" y="314.5" class="st" style="font-size:12px">*</text>
<path d="M595.1 441.1V445.9" stroke="#000" stroke-width="1.5"/>
<text transform="translate(596.6 453.7) rotate(-45)" class="xl">20</text>
<rect x="621.15" y="329.89" width="24.5" height="31.91" fill="#5c5c5c"/>
<rect x="621.15" y="361.8" width="24.5" height="21.64" fill="#d4d4d4"/>
<rect x="621.15" y="383.44" width="24.5" height="41.4" fill="#fff"/>
<rect x="621.15" y="424.83" width="24.5" height="2.77" fill="#111"/>
<path d="M621.15 383.44H645.65M621.15 361.8H645.65" stroke="#000" stroke-width="1.7"/>
<rect x="621.15" y="329.89" width="24.5" height="97.71" fill="none" stroke="#000" stroke-width="2"/>
<path d="M633.4 424.83V422.66M627.4 422.66H639.4M633.4 383.44V368.91M627.4 368.91H639.4M633.4 361.8V359.43M627.4 359.43H639.4M633.4 329.89V312.6M627.4 312.6H639.4" stroke="#000" stroke-width="1.5"/>
<text x="633.4" y="307.2" class="st" style="font-size:12px">*</text>
<text x="633.4" y="314.1" class="st" style="font-size:12px">*</text>
<text x="633.4" y="395.3" class="st" style="font-size:12px">*</text>
<path d="M633.4 441.1V445.9" stroke="#000" stroke-width="1.5"/>
<text transform="translate(634.9 453.7) rotate(-45)" class="xl">30</text>
<rect x="659.55" y="328.4" width="24.5" height="39.22" fill="#5c5c5c"/>
<rect x="659.55" y="367.63" width="24.5" height="19.96" fill="#d4d4d4"/>
<rect x="659.55" y="387.59" width="24.5" height="36.06" fill="#fff"/>
<rect x="659.55" y="423.65" width="24.5" height="3.95" fill="url(#hatchA)"/>
<path d="M659.55 387.59H684.05M659.55 367.63H684.05M659.55 423.65H684.05" stroke="#000" stroke-width="1.7"/>
<rect x="659.55" y="328.4" width="24.5" height="99.2" fill="none" stroke="#000" stroke-width="2"/>
<path d="M671.8 423.65V422.07M665.8 422.07H677.8M671.8 387.59V373.95M665.8 373.95H677.8M671.8 367.63V364.47M665.8 364.47H677.8M671.8 328.4V312.6M665.8 312.6H677.8" stroke="#000" stroke-width="1.5"/>
<text x="671.8" y="313.1" class="st" style="font-size:12px">**</text>
<text x="671.8" y="400.8" class="st" style="font-size:12px">**</text>
<path d="M671.8 441.1V445.9" stroke="#000" stroke-width="1.5"/>
<text transform="translate(673.3 453.7) rotate(-45)" class="xl">40</text>
<text x="587.7" y="286.3" class="ct">AGS</text>
<text x="594.3" y="483.5" class="xt">Magnoflorine [µg/mL]</text>
<rect x="489.2" y="502.4" width="14.8" height="9.6" fill="url(#hatch2)" stroke="#000" stroke-width="1.6"/>
<text x="511.8" y="512" class="lg">sub-G1 phase</text>
<rect x="489.2" y="521.6" width="14.8" height="9.6" fill="#d4d4d4" stroke="#000" stroke-width="1.6"/>
<text x="511.8" y="531.2" class="lg">S phase</text>
<rect x="630" y="502.4" width="14.8" height="9.6" fill="#fff" stroke="#000" stroke-width="1.6"/>
<text x="652.6" y="512" class="lg">G1 phase</text>
<rect x="630" y="520.2" width="14.8" height="9.6" fill="#5c5c5c" stroke="#000" stroke-width="1.6"/>
<text x="652.6" y="529.8" class="lg">G2 phase</text>
<path d="M465.5 878.85V1018.4" stroke="#000" stroke-width="1.8"/>
<path d="M461.3 1017.5H465.5M461.3 989.95H465.5M461.3 962.4H465.5M461.3 934.85H465.5M461.3 907.3H465.5M461.3 879.75H465.5" stroke="#000" stroke-width="1.6"/>
<text x="454" y="1021" class="bl" textLength="4.9" lengthAdjust="spacingAndGlyphs">0</text>
<text x="449.2" y="993.45" class="bl" textLength="9.7" lengthAdjust="spacingAndGlyphs">25</text>
<text x="449.2" y="965.9" class="bl" textLength="9.7" lengthAdjust="spacingAndGlyphs">50</text>
<text x="449.2" y="938.35" class="bl" textLength="9.7" lengthAdjust="spacingAndGlyphs">75</text>
<text x="444.4" y="910.8" class="bl" textLength="14.5" lengthAdjust="spacingAndGlyphs">100</text>
<text x="444.4" y="883.25" class="bl" textLength="14.5" lengthAdjust="spacingAndGlyphs">125</text>
<text transform="translate(434.7 949.2) rotate(-90)" class="yl">% of cell number</text>
<path d="M463.3 1017.5H673.8" stroke="#000" stroke-width="1.9"/>
<rect x="472.8" y="907.3" width="27" height="22.04" fill="#5c5c5c"/>
<rect x="472.8" y="929.34" width="27" height="19.51" fill="#d4d4d4"/>
<rect x="472.8" y="948.85" width="27" height="67.55" fill="#fff"/>
<rect x="472.8" y="1016.4" width="27" height="1.1" fill="#111"/>
<path d="M472.8 948.85H499.8M472.8 929.34H499.8" stroke="#000" stroke-width="1.7"/>
<rect x="472.8" y="907.3" width="27" height="110.2" fill="none" stroke="#000" stroke-width="2"/>
<path d="M486.3 1016.4V1014.75M479.8 1014.75H492.8M486.3 948.85V947.19M479.8 947.19H492.8M486.3 929.34V926.81M479.8 926.81H492.8M486.3 907.3V904.1M479.8 904.1H492.8" stroke="#000" stroke-width="1.5"/>
<path d="M486.3 1017.5V1022" stroke="#000" stroke-width="1.5"/>
<text transform="translate(487.6 1029.8) rotate(-45)" class="xl">control</text>
<rect x="514.6" y="907.3" width="27" height="17.85" fill="#5c5c5c"/>
<rect x="514.6" y="925.15" width="27" height="14.99" fill="#d4d4d4"/>
<rect x="514.6" y="940.14" width="27" height="75.16" fill="#fff"/>
<rect x="514.6" y="1015.3" width="27" height="2.2" fill="#111"/>
<path d="M514.6 940.14H541.6M514.6 925.15H541.6" stroke="#000" stroke-width="1.7"/>
<rect x="514.6" y="907.3" width="27" height="110.2" fill="none" stroke="#000" stroke-width="2"/>
<path d="M528.1 1015.3V1013.09M521.6 1013.09H534.6M528.1 940.14V937.72M521.6 937.72H534.6M528.1 925.15V923.83M521.6 923.83H534.6M528.1 907.3V905.65M521.6 905.65H534.6" stroke="#000" stroke-width="1.5"/>
<text x="528.1" y="905.8" class="st" style="font-size:12px">****</text>
<text x="528.1" y="952.7" class="st" style="font-size:12px">***</text>
<text x="528.1" y="1014.8" class="st" style="font-size:12px">*</text>
<path d="M528.1 1017.5V1022" stroke="#000" stroke-width="1.5"/>
<text transform="translate(529.4 1029.8) rotate(-45)" class="xl">10</text>
<rect x="556.1" y="907.3" width="27" height="15.43" fill="#5c5c5c"/>
<rect x="556.1" y="922.73" width="27" height="11.02" fill="#d4d4d4"/>
<rect x="556.1" y="933.75" width="27" height="81.55" fill="#fff"/>
<rect x="556.1" y="1015.3" width="27" height="2.2" fill="#111"/>
<path d="M556.1 933.75H583.1M556.1 922.73H583.1" stroke="#000" stroke-width="1.7"/>
<rect x="556.1" y="907.3" width="27" height="110.2" fill="none" stroke="#000" stroke-width="2"/>
<path d="M569.6 1015.3V1012.21M563.1 1012.21H576.1M569.6 933.75V929.34M563.1 929.34H576.1M569.6 922.73V921.08M563.1 921.08H576.1M569.6 907.3V905.65M563.1 905.65H576.1" stroke="#000" stroke-width="1.5"/>
<text x="569.6" y="897.1" class="st" style="font-size:12px">**</text>
<text x="569.6" y="905.5" class="st" style="font-size:12px">****</text>
<text x="569.6" y="947.6" class="st" style="font-size:12px">****</text>
<text x="569.6" y="1012.6" class="st" style="font-size:12px">***</text>
<path d="M569.6 1017.5V1022" stroke="#000" stroke-width="1.5"/>
<text transform="translate(570.9 1029.8) rotate(-45)" class="xl">20</text>
<rect x="597.3" y="907.3" width="27" height="25.35" fill="#5c5c5c"/>
<rect x="597.3" y="932.65" width="27" height="8.38" fill="#d4d4d4"/>
<rect x="597.3" y="941.02" width="27" height="72.62" fill="#fff"/>
<rect x="597.3" y="1013.64" width="27" height="3.86" fill="url(#hatch)"/>
<path d="M597.3 941.02H624.3M597.3 932.65H624.3M597.3 1013.64H624.3" stroke="#000" stroke-width="1.7"/>
<rect x="597.3" y="907.3" width="27" height="110.2" fill="none" stroke="#000" stroke-width="2"/>
<path d="M610.8 1013.64V1010.78M604.3 1010.78H617.3M610.8 941.02V937.38M604.3 937.38H617.3M610.8 932.65V931.54M604.3 931.54H617.3M610.8 907.3V905.1M604.3 905.1H617.3" stroke="#000" stroke-width="1.5"/>
<text x="610.8" y="905.5" class="st" style="font-size:12px">****</text>
<text x="610.8" y="1011.1" class="st" style="font-size:12px">****</text>
<path d="M610.8 1017.5V1022" stroke="#000" stroke-width="1.5"/>
<text transform="translate(612.1 1029.8) rotate(-45)" class="xl">30</text>
<rect x="638.9" y="907.3" width="27" height="39.01" fill="#5c5c5c"/>
<rect x="638.9" y="946.31" width="27" height="8.93" fill="#d4d4d4"/>
<rect x="638.9" y="955.24" width="27" height="55.65" fill="#fff"/>
<rect x="638.9" y="1010.89" width="27" height="6.61" fill="url(#hatch)"/>
<path d="M638.9 955.24H665.9M638.9 946.31H665.9M638.9 1010.89H665.9" stroke="#000" stroke-width="1.7"/>
<rect x="638.9" y="907.3" width="27" height="110.2" fill="none" stroke="#000" stroke-width="2"/>
<path d="M652.4 1010.89V1010.34M645.9 1010.34H658.9M652.4 955.24V949.84M645.9 949.84H658.9M652.4 946.31V944.77M645.9 944.77H658.9M652.4 907.3V900.14M645.9 900.14H658.9" stroke="#000" stroke-width="1.5"/>
<text x="652.4" y="893.5" class="st" style="font-size:12px">****</text>
<text x="652.4" y="901.7" class="st" style="font-size:12px">****</text>
<text x="652.4" y="970.3" class="st" style="font-size:12px">****</text>
<text x="652.4" y="1011.1" class="st" style="font-size:12px">****</text>
<path d="M652.4 1017.5V1022" stroke="#000" stroke-width="1.5"/>
<text transform="translate(653.7 1029.8) rotate(-45)" class="xl">40</text>
<text x="569.5" y="862.3" class="ct">MKN-74</text>
<text x="568.7" y="1057.7" class="xt">Magnoflorine [µg/mL]</text>
<rect x="469.4" y="1077" width="14.8" height="8.6" fill="url(#hatch3)" stroke="#000" stroke-width="1.6"/>
<text x="491" y="1085.6" class="lg">sub-G1 phase</text>
<rect x="469.4" y="1095.3" width="14.8" height="8.6" fill="#d4d4d4" stroke="#000" stroke-width="1.6"/>
<text x="491" y="1103.9" class="lg">S phase</text>
<rect x="601.3" y="1077" width="14.8" height="8.6" fill="#fff" stroke="#000" stroke-width="1.6"/>
<text x="622.9" y="1085.6" class="lg">G1 phase</text>
<rect x="601.3" y="1093.9" width="14.8" height="8.6" fill="#5c5c5c" stroke="#000" stroke-width="1.6"/>
<text x="622.9" y="1102.5" class="lg">G2 phase</text>
<text x="14.2" y="40.6" class="pl" textLength="19.7" lengthAdjust="spacingAndGlyphs">(b)</text>
<text x="14.0" y="611.0" class="pl" textLength="18.0" lengthAdjust="spacingAndGlyphs">(c)</text>
</svg>
</body></html>
